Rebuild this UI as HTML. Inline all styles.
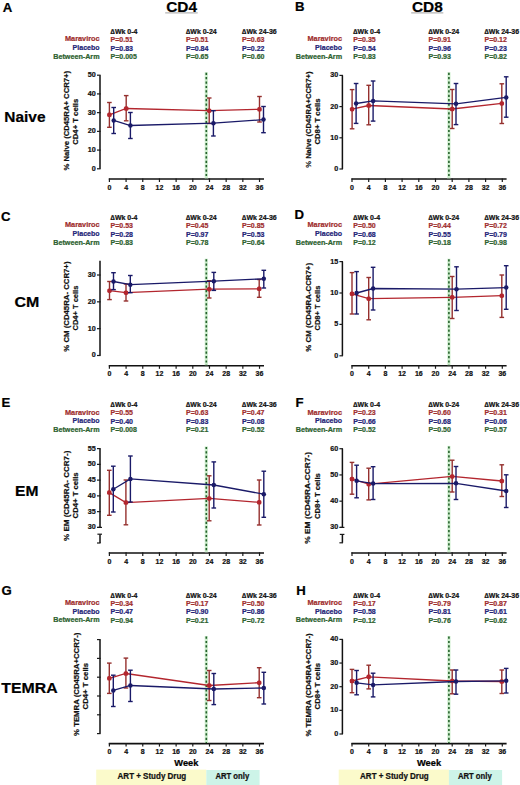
<!DOCTYPE html>
<html><head><meta charset="utf-8"><title>Figure</title>
<style>html,body{margin:0;padding:0;background:#fff;width:520px;height:785px;overflow:hidden}svg{display:block}</style>
</head><body>
<svg width="520" height="785" viewBox="0 0 520 785" font-family="'Liberation Sans', sans-serif">
<rect width="520" height="785" fill="#ffffff"/>
<text x="181.60" y="12.00" font-size="15.4" fill="#000" stroke="#000" stroke-width="0.22" text-anchor="middle" font-weight="bold" >CD4</text>
<line x1="165.20" y1="12.90" x2="197.70" y2="12.90" stroke="#8a8a8a" stroke-width="0.8" />
<text x="427.40" y="12.00" font-size="15.4" fill="#000" stroke="#000" stroke-width="0.22" text-anchor="middle" font-weight="bold" >CD8</text>
<line x1="411.20" y1="12.90" x2="443.30" y2="12.90" stroke="#8a8a8a" stroke-width="0.8" />
<text x="24.90" y="122.00" font-size="15.4" fill="#000" stroke="#000" stroke-width="0.22" text-anchor="middle" font-weight="bold" textLength="41.2" lengthAdjust="spacingAndGlyphs">Naive</text>
<text x="27.00" y="307.30" font-size="15.4" fill="#000" stroke="#000" stroke-width="0.22" text-anchor="middle" font-weight="bold" textLength="24.8" lengthAdjust="spacingAndGlyphs">CM</text>
<text x="26.75" y="496.30" font-size="15.4" fill="#000" stroke="#000" stroke-width="0.22" text-anchor="middle" font-weight="bold" textLength="23.4" lengthAdjust="spacingAndGlyphs">EM</text>
<text x="29.45" y="693.40" font-size="15.4" fill="#000" stroke="#000" stroke-width="0.22" text-anchor="middle" font-weight="bold" textLength="56.2" lengthAdjust="spacingAndGlyphs">TEMRA</text>
<text x="2.70" y="11.60" font-size="13.2" fill="#000" stroke="#000" stroke-width="0.22" text-anchor="start" font-weight="bold" >A</text>
<text x="99.60" y="41.30" font-size="7.2" fill="#a02e2e" stroke="#a02e2e" stroke-width="0.22" text-anchor="end" font-weight="bold" textLength="34.6" lengthAdjust="spacingAndGlyphs">Maraviroc</text>
<text x="99.60" y="49.90" font-size="7.2" fill="#242478" stroke="#242478" stroke-width="0.22" text-anchor="end" font-weight="bold" textLength="27.0" lengthAdjust="spacingAndGlyphs">Placebo</text>
<text x="99.60" y="58.50" font-size="7.2" fill="#2d622f" stroke="#2d622f" stroke-width="0.22" text-anchor="end" font-weight="bold" textLength="46.4" lengthAdjust="spacingAndGlyphs">Between-Arm</text>
<text x="110.60" y="34.00" font-size="7" fill="#111" stroke="#111" stroke-width="0.22" text-anchor="start" font-weight="bold" >∆Wk 0-4</text>
<text x="110.60" y="42.00" font-size="7" fill="#a02e2e" stroke="#a02e2e" stroke-width="0.22" text-anchor="start" font-weight="bold" >P=0.51</text>
<text x="110.60" y="50.60" font-size="7" fill="#242478" stroke="#242478" stroke-width="0.22" text-anchor="start" font-weight="bold" >P=0.83</text>
<text x="110.60" y="59.20" font-size="7" fill="#2d622f" stroke="#2d622f" stroke-width="0.22" text-anchor="start" font-weight="bold" >P=0.005</text>
<text x="186.00" y="34.00" font-size="7" fill="#111" stroke="#111" stroke-width="0.22" text-anchor="start" font-weight="bold" >∆Wk 0-24</text>
<text x="186.00" y="42.00" font-size="7" fill="#a02e2e" stroke="#a02e2e" stroke-width="0.22" text-anchor="start" font-weight="bold" >P=0.51</text>
<text x="186.00" y="50.60" font-size="7" fill="#242478" stroke="#242478" stroke-width="0.22" text-anchor="start" font-weight="bold" >P=0.84</text>
<text x="186.00" y="59.20" font-size="7" fill="#2d622f" stroke="#2d622f" stroke-width="0.22" text-anchor="start" font-weight="bold" >P=0.65</text>
<text x="242.10" y="34.00" font-size="7" fill="#111" stroke="#111" stroke-width="0.22" text-anchor="start" font-weight="bold" >∆Wk 24-36</text>
<text x="242.10" y="42.00" font-size="7" fill="#a02e2e" stroke="#a02e2e" stroke-width="0.22" text-anchor="start" font-weight="bold" >P=0.63</text>
<text x="242.10" y="50.60" font-size="7" fill="#242478" stroke="#242478" stroke-width="0.22" text-anchor="start" font-weight="bold" >P=0.22</text>
<text x="242.10" y="59.20" font-size="7" fill="#2d622f" stroke="#2d622f" stroke-width="0.22" text-anchor="start" font-weight="bold" >P=0.60</text>
<line x1="100.00" y1="75.20" x2="100.00" y2="168.80" stroke="#111" stroke-width="1.5" />
<line x1="97.00" y1="168.80" x2="100.60" y2="168.80" stroke="#1a1a1a" stroke-width="1.2" />
<text x="95.80" y="170.70" font-size="7.2" fill="#111" stroke="#111" stroke-width="0.22" text-anchor="end" font-weight="bold" >0</text>
<line x1="97.00" y1="150.08" x2="100.60" y2="150.08" stroke="#1a1a1a" stroke-width="1.2" />
<text x="95.80" y="151.98" font-size="7.2" fill="#111" stroke="#111" stroke-width="0.22" text-anchor="end" font-weight="bold" >10</text>
<line x1="97.00" y1="131.36" x2="100.60" y2="131.36" stroke="#1a1a1a" stroke-width="1.2" />
<text x="95.80" y="133.26" font-size="7.2" fill="#111" stroke="#111" stroke-width="0.22" text-anchor="end" font-weight="bold" >20</text>
<line x1="97.00" y1="112.64" x2="100.60" y2="112.64" stroke="#1a1a1a" stroke-width="1.2" />
<text x="95.80" y="114.54" font-size="7.2" fill="#111" stroke="#111" stroke-width="0.22" text-anchor="end" font-weight="bold" >30</text>
<line x1="97.00" y1="93.92" x2="100.60" y2="93.92" stroke="#1a1a1a" stroke-width="1.2" />
<text x="95.80" y="95.82" font-size="7.2" fill="#111" stroke="#111" stroke-width="0.22" text-anchor="end" font-weight="bold" >40</text>
<line x1="97.00" y1="75.20" x2="100.60" y2="75.20" stroke="#1a1a1a" stroke-width="1.2" />
<text x="95.80" y="77.10" font-size="7.2" fill="#111" stroke="#111" stroke-width="0.22" text-anchor="end" font-weight="bold" >50</text>
<text transform="translate(68.70,120.70) rotate(-90)" font-size="7.7" font-weight="bold" fill="#111" stroke="#111" stroke-width="0.22" text-anchor="middle" textLength="99.6" lengthAdjust="spacingAndGlyphs">% Naive (CD45RA+ CCR7+)</text>
<text transform="translate(78.20,121.75) rotate(-90)" font-size="7.7" font-weight="bold" fill="#111" stroke="#111" stroke-width="0.22" text-anchor="middle" textLength="46.0" lengthAdjust="spacingAndGlyphs">CD4+ T cells</text>
<line x1="108.80" y1="179.00" x2="264.00" y2="179.00" stroke="#111" stroke-width="1.55" />
<line x1="109.40" y1="178.40" x2="109.40" y2="182.00" stroke="#1a1a1a" stroke-width="1.2" />
<text x="109.40" y="189.60" font-size="7" fill="#111" stroke="#111" stroke-width="0.22" text-anchor="middle" font-weight="bold" >0</text>
<line x1="126.08" y1="178.40" x2="126.08" y2="182.00" stroke="#1a1a1a" stroke-width="1.2" />
<text x="126.08" y="189.60" font-size="7" fill="#111" stroke="#111" stroke-width="0.22" text-anchor="middle" font-weight="bold" >4</text>
<line x1="142.76" y1="178.40" x2="142.76" y2="182.00" stroke="#1a1a1a" stroke-width="1.2" />
<text x="142.76" y="189.60" font-size="7" fill="#111" stroke="#111" stroke-width="0.22" text-anchor="middle" font-weight="bold" >8</text>
<line x1="159.44" y1="178.40" x2="159.44" y2="182.00" stroke="#1a1a1a" stroke-width="1.2" />
<text x="159.44" y="189.60" font-size="7" fill="#111" stroke="#111" stroke-width="0.22" text-anchor="middle" font-weight="bold" >12</text>
<line x1="176.12" y1="178.40" x2="176.12" y2="182.00" stroke="#1a1a1a" stroke-width="1.2" />
<text x="176.12" y="189.60" font-size="7" fill="#111" stroke="#111" stroke-width="0.22" text-anchor="middle" font-weight="bold" >16</text>
<line x1="192.80" y1="178.40" x2="192.80" y2="182.00" stroke="#1a1a1a" stroke-width="1.2" />
<text x="192.80" y="189.60" font-size="7" fill="#111" stroke="#111" stroke-width="0.22" text-anchor="middle" font-weight="bold" >20</text>
<line x1="209.48" y1="178.40" x2="209.48" y2="182.00" stroke="#1a1a1a" stroke-width="1.2" />
<text x="209.48" y="189.60" font-size="7" fill="#111" stroke="#111" stroke-width="0.22" text-anchor="middle" font-weight="bold" >24</text>
<line x1="226.16" y1="178.40" x2="226.16" y2="182.00" stroke="#1a1a1a" stroke-width="1.2" />
<text x="226.16" y="189.60" font-size="7" fill="#111" stroke="#111" stroke-width="0.22" text-anchor="middle" font-weight="bold" >28</text>
<line x1="242.84" y1="178.40" x2="242.84" y2="182.00" stroke="#1a1a1a" stroke-width="1.2" />
<text x="242.84" y="189.60" font-size="7" fill="#111" stroke="#111" stroke-width="0.22" text-anchor="middle" font-weight="bold" >32</text>
<line x1="259.52" y1="178.40" x2="259.52" y2="182.00" stroke="#1a1a1a" stroke-width="1.2" />
<text x="259.52" y="189.60" font-size="7" fill="#111" stroke="#111" stroke-width="0.22" text-anchor="middle" font-weight="bold" >36</text>
<line x1="206.30" y1="72.20" x2="206.30" y2="178.40" stroke="#cdeecd" stroke-width="3.2" />
<line x1="206.30" y1="72.70" x2="206.30" y2="178.40" stroke="#25602c" stroke-width="1.6" stroke-dasharray="2.2 2.2"/>
<path d="M109.40,114.80 L126.20,108.50 L209.20,110.70 L259.50,109.30" fill="none" stroke="#b3262e" stroke-width="1.3"/>
<line x1="109.40" y1="102.50" x2="109.40" y2="127.30" stroke="#95302e" stroke-width="1.4" />
<line x1="107.10" y1="102.50" x2="111.70" y2="102.50" stroke="#95302e" stroke-width="1.4" />
<line x1="107.10" y1="127.30" x2="111.70" y2="127.30" stroke="#95302e" stroke-width="1.4" />
<rect x="107.15" y="112.55" width="4.5" height="4.5" rx="1.6" fill="#b3262e"/>
<line x1="126.20" y1="95.60" x2="126.20" y2="120.80" stroke="#95302e" stroke-width="1.4" />
<line x1="123.90" y1="95.60" x2="128.50" y2="95.60" stroke="#95302e" stroke-width="1.4" />
<line x1="123.90" y1="120.80" x2="128.50" y2="120.80" stroke="#95302e" stroke-width="1.4" />
<rect x="123.95" y="106.25" width="4.5" height="4.5" rx="1.6" fill="#b3262e"/>
<line x1="209.20" y1="98.00" x2="209.20" y2="123.50" stroke="#95302e" stroke-width="1.4" />
<line x1="206.90" y1="98.00" x2="211.50" y2="98.00" stroke="#95302e" stroke-width="1.4" />
<line x1="206.90" y1="123.50" x2="211.50" y2="123.50" stroke="#95302e" stroke-width="1.4" />
<rect x="206.95" y="108.45" width="4.5" height="4.5" rx="1.6" fill="#b3262e"/>
<line x1="259.50" y1="96.50" x2="259.50" y2="122.00" stroke="#95302e" stroke-width="1.4" />
<line x1="257.20" y1="96.50" x2="261.80" y2="96.50" stroke="#95302e" stroke-width="1.4" />
<line x1="257.20" y1="122.00" x2="261.80" y2="122.00" stroke="#95302e" stroke-width="1.4" />
<rect x="257.25" y="107.05" width="4.5" height="4.5" rx="1.6" fill="#b3262e"/>
<path d="M113.70,120.40 L130.40,125.50 L213.40,123.20 L263.50,119.60" fill="none" stroke="#1a1a68" stroke-width="1.3"/>
<line x1="113.70" y1="107.50" x2="113.70" y2="133.50" stroke="#1a1a68" stroke-width="1.4" />
<line x1="111.40" y1="107.50" x2="116.00" y2="107.50" stroke="#1a1a68" stroke-width="1.4" />
<line x1="111.40" y1="133.50" x2="116.00" y2="133.50" stroke="#1a1a68" stroke-width="1.4" />
<circle cx="113.70" cy="120.40" r="2.25" fill="#1a1a68"/>
<line x1="130.40" y1="112.50" x2="130.40" y2="138.50" stroke="#1a1a68" stroke-width="1.4" />
<line x1="128.10" y1="112.50" x2="132.70" y2="112.50" stroke="#1a1a68" stroke-width="1.4" />
<line x1="128.10" y1="138.50" x2="132.70" y2="138.50" stroke="#1a1a68" stroke-width="1.4" />
<circle cx="130.40" cy="125.50" r="2.25" fill="#1a1a68"/>
<line x1="213.40" y1="110.70" x2="213.40" y2="136.00" stroke="#1a1a68" stroke-width="1.4" />
<line x1="211.10" y1="110.70" x2="215.70" y2="110.70" stroke="#1a1a68" stroke-width="1.4" />
<line x1="211.10" y1="136.00" x2="215.70" y2="136.00" stroke="#1a1a68" stroke-width="1.4" />
<circle cx="213.40" cy="123.20" r="2.25" fill="#1a1a68"/>
<line x1="263.50" y1="106.50" x2="263.50" y2="132.70" stroke="#1a1a68" stroke-width="1.4" />
<line x1="261.20" y1="106.50" x2="265.80" y2="106.50" stroke="#1a1a68" stroke-width="1.4" />
<line x1="261.20" y1="132.70" x2="265.80" y2="132.70" stroke="#1a1a68" stroke-width="1.4" />
<circle cx="263.50" cy="119.60" r="2.25" fill="#1a1a68"/>
<text x="294.90" y="11.40" font-size="13.2" fill="#000" stroke="#000" stroke-width="0.22" text-anchor="start" font-weight="bold" >B</text>
<text x="342.10" y="41.30" font-size="7.2" fill="#a02e2e" stroke="#a02e2e" stroke-width="0.22" text-anchor="end" font-weight="bold" textLength="34.6" lengthAdjust="spacingAndGlyphs">Maraviroc</text>
<text x="342.10" y="49.90" font-size="7.2" fill="#242478" stroke="#242478" stroke-width="0.22" text-anchor="end" font-weight="bold" textLength="27.0" lengthAdjust="spacingAndGlyphs">Placebo</text>
<text x="342.10" y="58.50" font-size="7.2" fill="#2d622f" stroke="#2d622f" stroke-width="0.22" text-anchor="end" font-weight="bold" textLength="46.4" lengthAdjust="spacingAndGlyphs">Between-Arm</text>
<text x="353.30" y="34.00" font-size="7" fill="#111" stroke="#111" stroke-width="0.22" text-anchor="start" font-weight="bold" >∆Wk 0-4</text>
<text x="353.30" y="42.00" font-size="7" fill="#a02e2e" stroke="#a02e2e" stroke-width="0.22" text-anchor="start" font-weight="bold" >P=0.35</text>
<text x="353.30" y="50.60" font-size="7" fill="#242478" stroke="#242478" stroke-width="0.22" text-anchor="start" font-weight="bold" >P=0.54</text>
<text x="353.30" y="59.20" font-size="7" fill="#2d622f" stroke="#2d622f" stroke-width="0.22" text-anchor="start" font-weight="bold" >P=0.83</text>
<text x="428.50" y="34.00" font-size="7" fill="#111" stroke="#111" stroke-width="0.22" text-anchor="start" font-weight="bold" >∆Wk 0-24</text>
<text x="428.50" y="42.00" font-size="7" fill="#a02e2e" stroke="#a02e2e" stroke-width="0.22" text-anchor="start" font-weight="bold" >P=0.91</text>
<text x="428.50" y="50.60" font-size="7" fill="#242478" stroke="#242478" stroke-width="0.22" text-anchor="start" font-weight="bold" >P=0.96</text>
<text x="428.50" y="59.20" font-size="7" fill="#2d622f" stroke="#2d622f" stroke-width="0.22" text-anchor="start" font-weight="bold" >P=0.93</text>
<text x="484.50" y="34.00" font-size="7" fill="#111" stroke="#111" stroke-width="0.22" text-anchor="start" font-weight="bold" >∆Wk 24-36</text>
<text x="484.50" y="42.00" font-size="7" fill="#a02e2e" stroke="#a02e2e" stroke-width="0.22" text-anchor="start" font-weight="bold" >P=0.12</text>
<text x="484.50" y="50.60" font-size="7" fill="#242478" stroke="#242478" stroke-width="0.22" text-anchor="start" font-weight="bold" >P=0.23</text>
<text x="484.50" y="59.20" font-size="7" fill="#2d622f" stroke="#2d622f" stroke-width="0.22" text-anchor="start" font-weight="bold" >P=0.82</text>
<line x1="342.40" y1="75.40" x2="342.40" y2="169.00" stroke="#111" stroke-width="1.5" />
<line x1="339.40" y1="169.00" x2="343.00" y2="169.00" stroke="#1a1a1a" stroke-width="1.2" />
<text x="338.20" y="170.90" font-size="7.2" fill="#111" stroke="#111" stroke-width="0.22" text-anchor="end" font-weight="bold" >0</text>
<line x1="339.40" y1="137.80" x2="343.00" y2="137.80" stroke="#1a1a1a" stroke-width="1.2" />
<text x="338.20" y="139.70" font-size="7.2" fill="#111" stroke="#111" stroke-width="0.22" text-anchor="end" font-weight="bold" >10</text>
<line x1="339.40" y1="106.60" x2="343.00" y2="106.60" stroke="#1a1a1a" stroke-width="1.2" />
<text x="338.20" y="108.50" font-size="7.2" fill="#111" stroke="#111" stroke-width="0.22" text-anchor="end" font-weight="bold" >20</text>
<line x1="339.40" y1="75.40" x2="343.00" y2="75.40" stroke="#1a1a1a" stroke-width="1.2" />
<text x="338.20" y="77.30" font-size="7.2" fill="#111" stroke="#111" stroke-width="0.22" text-anchor="end" font-weight="bold" >30</text>
<text transform="translate(310.50,119.60) rotate(-90)" font-size="7.7" font-weight="bold" fill="#111" stroke="#111" stroke-width="0.22" text-anchor="middle" textLength="96.3" lengthAdjust="spacingAndGlyphs">% Naive (CD45RA+CCR7+)</text>
<text transform="translate(319.80,121.50) rotate(-90)" font-size="7.7" font-weight="bold" fill="#111" stroke="#111" stroke-width="0.22" text-anchor="middle" textLength="46.0" lengthAdjust="spacingAndGlyphs">CD8+ T cells</text>
<line x1="351.40" y1="179.00" x2="506.60" y2="179.00" stroke="#111" stroke-width="1.55" />
<line x1="352.00" y1="178.40" x2="352.00" y2="182.00" stroke="#1a1a1a" stroke-width="1.2" />
<text x="352.00" y="189.60" font-size="7" fill="#111" stroke="#111" stroke-width="0.22" text-anchor="middle" font-weight="bold" >0</text>
<line x1="368.70" y1="178.40" x2="368.70" y2="182.00" stroke="#1a1a1a" stroke-width="1.2" />
<text x="368.70" y="189.60" font-size="7" fill="#111" stroke="#111" stroke-width="0.22" text-anchor="middle" font-weight="bold" >4</text>
<line x1="385.40" y1="178.40" x2="385.40" y2="182.00" stroke="#1a1a1a" stroke-width="1.2" />
<text x="385.40" y="189.60" font-size="7" fill="#111" stroke="#111" stroke-width="0.22" text-anchor="middle" font-weight="bold" >8</text>
<line x1="402.10" y1="178.40" x2="402.10" y2="182.00" stroke="#1a1a1a" stroke-width="1.2" />
<text x="402.10" y="189.60" font-size="7" fill="#111" stroke="#111" stroke-width="0.22" text-anchor="middle" font-weight="bold" >12</text>
<line x1="418.80" y1="178.40" x2="418.80" y2="182.00" stroke="#1a1a1a" stroke-width="1.2" />
<text x="418.80" y="189.60" font-size="7" fill="#111" stroke="#111" stroke-width="0.22" text-anchor="middle" font-weight="bold" >16</text>
<line x1="435.50" y1="178.40" x2="435.50" y2="182.00" stroke="#1a1a1a" stroke-width="1.2" />
<text x="435.50" y="189.60" font-size="7" fill="#111" stroke="#111" stroke-width="0.22" text-anchor="middle" font-weight="bold" >20</text>
<line x1="452.20" y1="178.40" x2="452.20" y2="182.00" stroke="#1a1a1a" stroke-width="1.2" />
<text x="452.20" y="189.60" font-size="7" fill="#111" stroke="#111" stroke-width="0.22" text-anchor="middle" font-weight="bold" >24</text>
<line x1="468.90" y1="178.40" x2="468.90" y2="182.00" stroke="#1a1a1a" stroke-width="1.2" />
<text x="468.90" y="189.60" font-size="7" fill="#111" stroke="#111" stroke-width="0.22" text-anchor="middle" font-weight="bold" >28</text>
<line x1="485.60" y1="178.40" x2="485.60" y2="182.00" stroke="#1a1a1a" stroke-width="1.2" />
<text x="485.60" y="189.60" font-size="7" fill="#111" stroke="#111" stroke-width="0.22" text-anchor="middle" font-weight="bold" >32</text>
<line x1="502.30" y1="178.40" x2="502.30" y2="182.00" stroke="#1a1a1a" stroke-width="1.2" />
<text x="502.30" y="189.60" font-size="7" fill="#111" stroke="#111" stroke-width="0.22" text-anchor="middle" font-weight="bold" >36</text>
<line x1="448.90" y1="72.20" x2="448.90" y2="178.40" stroke="#cdeecd" stroke-width="3.2" />
<line x1="448.90" y1="72.70" x2="448.90" y2="178.40" stroke="#25602c" stroke-width="1.6" stroke-dasharray="2.2 2.2"/>
<path d="M352.10,109.20 L368.70,105.50 L452.20,109.00 L501.80,103.40" fill="none" stroke="#b3262e" stroke-width="1.3"/>
<line x1="352.10" y1="89.60" x2="352.10" y2="128.80" stroke="#95302e" stroke-width="1.4" />
<line x1="349.80" y1="89.60" x2="354.40" y2="89.60" stroke="#95302e" stroke-width="1.4" />
<line x1="349.80" y1="128.80" x2="354.40" y2="128.80" stroke="#95302e" stroke-width="1.4" />
<rect x="349.85" y="106.95" width="4.5" height="4.5" rx="1.6" fill="#b3262e"/>
<line x1="368.70" y1="85.30" x2="368.70" y2="124.80" stroke="#95302e" stroke-width="1.4" />
<line x1="366.40" y1="85.30" x2="371.00" y2="85.30" stroke="#95302e" stroke-width="1.4" />
<line x1="366.40" y1="124.80" x2="371.00" y2="124.80" stroke="#95302e" stroke-width="1.4" />
<rect x="366.45" y="103.25" width="4.5" height="4.5" rx="1.6" fill="#b3262e"/>
<line x1="452.20" y1="89.50" x2="452.20" y2="128.50" stroke="#95302e" stroke-width="1.4" />
<line x1="449.90" y1="89.50" x2="454.50" y2="89.50" stroke="#95302e" stroke-width="1.4" />
<line x1="449.90" y1="128.50" x2="454.50" y2="128.50" stroke="#95302e" stroke-width="1.4" />
<rect x="449.95" y="106.75" width="4.5" height="4.5" rx="1.6" fill="#b3262e"/>
<line x1="501.80" y1="83.80" x2="501.80" y2="123.50" stroke="#95302e" stroke-width="1.4" />
<line x1="499.50" y1="83.80" x2="504.10" y2="83.80" stroke="#95302e" stroke-width="1.4" />
<line x1="499.50" y1="123.50" x2="504.10" y2="123.50" stroke="#95302e" stroke-width="1.4" />
<rect x="499.55" y="101.15" width="4.5" height="4.5" rx="1.6" fill="#b3262e"/>
<path d="M356.10,103.50 L373.10,100.90 L456.00,103.80 L506.20,97.40" fill="none" stroke="#1a1a68" stroke-width="1.3"/>
<line x1="356.10" y1="83.50" x2="356.10" y2="123.40" stroke="#1a1a68" stroke-width="1.4" />
<line x1="353.80" y1="83.50" x2="358.40" y2="83.50" stroke="#1a1a68" stroke-width="1.4" />
<line x1="353.80" y1="123.40" x2="358.40" y2="123.40" stroke="#1a1a68" stroke-width="1.4" />
<circle cx="356.10" cy="103.50" r="2.25" fill="#1a1a68"/>
<line x1="373.10" y1="81.00" x2="373.10" y2="121.10" stroke="#1a1a68" stroke-width="1.4" />
<line x1="370.80" y1="81.00" x2="375.40" y2="81.00" stroke="#1a1a68" stroke-width="1.4" />
<line x1="370.80" y1="121.10" x2="375.40" y2="121.10" stroke="#1a1a68" stroke-width="1.4" />
<circle cx="373.10" cy="100.90" r="2.25" fill="#1a1a68"/>
<line x1="456.00" y1="83.50" x2="456.00" y2="124.60" stroke="#1a1a68" stroke-width="1.4" />
<line x1="453.70" y1="83.50" x2="458.30" y2="83.50" stroke="#1a1a68" stroke-width="1.4" />
<line x1="453.70" y1="124.60" x2="458.30" y2="124.60" stroke="#1a1a68" stroke-width="1.4" />
<circle cx="456.00" cy="103.80" r="2.25" fill="#1a1a68"/>
<line x1="506.20" y1="76.80" x2="506.20" y2="117.20" stroke="#1a1a68" stroke-width="1.4" />
<line x1="503.90" y1="76.80" x2="508.50" y2="76.80" stroke="#1a1a68" stroke-width="1.4" />
<line x1="503.90" y1="117.20" x2="508.50" y2="117.20" stroke="#1a1a68" stroke-width="1.4" />
<circle cx="506.20" cy="97.40" r="2.25" fill="#1a1a68"/>
<text x="1.00" y="220.50" font-size="13.2" fill="#000" stroke="#000" stroke-width="0.22" text-anchor="start" font-weight="bold" >C</text>
<text x="99.60" y="227.30" font-size="7.2" fill="#a02e2e" stroke="#a02e2e" stroke-width="0.22" text-anchor="end" font-weight="bold" textLength="34.6" lengthAdjust="spacingAndGlyphs">Maraviroc</text>
<text x="99.60" y="235.90" font-size="7.2" fill="#242478" stroke="#242478" stroke-width="0.22" text-anchor="end" font-weight="bold" textLength="27.0" lengthAdjust="spacingAndGlyphs">Placebo</text>
<text x="99.60" y="244.50" font-size="7.2" fill="#2d622f" stroke="#2d622f" stroke-width="0.22" text-anchor="end" font-weight="bold" textLength="46.4" lengthAdjust="spacingAndGlyphs">Between-Arm</text>
<text x="110.60" y="220.00" font-size="7" fill="#111" stroke="#111" stroke-width="0.22" text-anchor="start" font-weight="bold" >∆Wk 0-4</text>
<text x="110.60" y="228.00" font-size="7" fill="#a02e2e" stroke="#a02e2e" stroke-width="0.22" text-anchor="start" font-weight="bold" >P=0.53</text>
<text x="110.60" y="236.60" font-size="7" fill="#242478" stroke="#242478" stroke-width="0.22" text-anchor="start" font-weight="bold" >P=0.28</text>
<text x="110.60" y="245.20" font-size="7" fill="#2d622f" stroke="#2d622f" stroke-width="0.22" text-anchor="start" font-weight="bold" >P=0.83</text>
<text x="186.00" y="220.00" font-size="7" fill="#111" stroke="#111" stroke-width="0.22" text-anchor="start" font-weight="bold" >∆Wk 0-24</text>
<text x="186.00" y="228.00" font-size="7" fill="#a02e2e" stroke="#a02e2e" stroke-width="0.22" text-anchor="start" font-weight="bold" >P=0.45</text>
<text x="186.00" y="236.60" font-size="7" fill="#242478" stroke="#242478" stroke-width="0.22" text-anchor="start" font-weight="bold" >P=0.97</text>
<text x="186.00" y="245.20" font-size="7" fill="#2d622f" stroke="#2d622f" stroke-width="0.22" text-anchor="start" font-weight="bold" >P=0.78</text>
<text x="242.10" y="220.00" font-size="7" fill="#111" stroke="#111" stroke-width="0.22" text-anchor="start" font-weight="bold" >∆Wk 24-36</text>
<text x="242.10" y="228.00" font-size="7" fill="#a02e2e" stroke="#a02e2e" stroke-width="0.22" text-anchor="start" font-weight="bold" >P=0.85</text>
<text x="242.10" y="236.60" font-size="7" fill="#242478" stroke="#242478" stroke-width="0.22" text-anchor="start" font-weight="bold" >P=0.53</text>
<text x="242.10" y="245.20" font-size="7" fill="#2d622f" stroke="#2d622f" stroke-width="0.22" text-anchor="start" font-weight="bold" >P=0.64</text>
<line x1="100.00" y1="260.80" x2="100.00" y2="355.50" stroke="#111" stroke-width="1.5" />
<line x1="97.00" y1="355.50" x2="100.60" y2="355.50" stroke="#1a1a1a" stroke-width="1.2" />
<text x="95.80" y="357.40" font-size="7.2" fill="#111" stroke="#111" stroke-width="0.22" text-anchor="end" font-weight="bold" >0</text>
<line x1="97.00" y1="328.67" x2="100.60" y2="328.67" stroke="#1a1a1a" stroke-width="1.2" />
<text x="95.80" y="330.57" font-size="7.2" fill="#111" stroke="#111" stroke-width="0.22" text-anchor="end" font-weight="bold" >10</text>
<line x1="97.00" y1="301.84" x2="100.60" y2="301.84" stroke="#1a1a1a" stroke-width="1.2" />
<text x="95.80" y="303.74" font-size="7.2" fill="#111" stroke="#111" stroke-width="0.22" text-anchor="end" font-weight="bold" >20</text>
<line x1="97.00" y1="275.01" x2="100.60" y2="275.01" stroke="#1a1a1a" stroke-width="1.2" />
<text x="95.80" y="276.91" font-size="7.2" fill="#111" stroke="#111" stroke-width="0.22" text-anchor="end" font-weight="bold" >30</text>
<text transform="translate(68.60,306.60) rotate(-90)" font-size="7.7" font-weight="bold" fill="#111" stroke="#111" stroke-width="0.22" text-anchor="middle" textLength="90.2" lengthAdjust="spacingAndGlyphs">% CM (CD45RA- CCR7+)</text>
<text transform="translate(77.80,308.10) rotate(-90)" font-size="7.7" font-weight="bold" fill="#111" stroke="#111" stroke-width="0.22" text-anchor="middle" textLength="44.8" lengthAdjust="spacingAndGlyphs">CD4+ T cells</text>
<line x1="108.80" y1="365.80" x2="264.00" y2="365.80" stroke="#111" stroke-width="1.55" />
<line x1="109.40" y1="365.20" x2="109.40" y2="368.80" stroke="#1a1a1a" stroke-width="1.2" />
<text x="109.40" y="376.40" font-size="7" fill="#111" stroke="#111" stroke-width="0.22" text-anchor="middle" font-weight="bold" >0</text>
<line x1="126.08" y1="365.20" x2="126.08" y2="368.80" stroke="#1a1a1a" stroke-width="1.2" />
<text x="126.08" y="376.40" font-size="7" fill="#111" stroke="#111" stroke-width="0.22" text-anchor="middle" font-weight="bold" >4</text>
<line x1="142.76" y1="365.20" x2="142.76" y2="368.80" stroke="#1a1a1a" stroke-width="1.2" />
<text x="142.76" y="376.40" font-size="7" fill="#111" stroke="#111" stroke-width="0.22" text-anchor="middle" font-weight="bold" >8</text>
<line x1="159.44" y1="365.20" x2="159.44" y2="368.80" stroke="#1a1a1a" stroke-width="1.2" />
<text x="159.44" y="376.40" font-size="7" fill="#111" stroke="#111" stroke-width="0.22" text-anchor="middle" font-weight="bold" >12</text>
<line x1="176.12" y1="365.20" x2="176.12" y2="368.80" stroke="#1a1a1a" stroke-width="1.2" />
<text x="176.12" y="376.40" font-size="7" fill="#111" stroke="#111" stroke-width="0.22" text-anchor="middle" font-weight="bold" >16</text>
<line x1="192.80" y1="365.20" x2="192.80" y2="368.80" stroke="#1a1a1a" stroke-width="1.2" />
<text x="192.80" y="376.40" font-size="7" fill="#111" stroke="#111" stroke-width="0.22" text-anchor="middle" font-weight="bold" >20</text>
<line x1="209.48" y1="365.20" x2="209.48" y2="368.80" stroke="#1a1a1a" stroke-width="1.2" />
<text x="209.48" y="376.40" font-size="7" fill="#111" stroke="#111" stroke-width="0.22" text-anchor="middle" font-weight="bold" >24</text>
<line x1="226.16" y1="365.20" x2="226.16" y2="368.80" stroke="#1a1a1a" stroke-width="1.2" />
<text x="226.16" y="376.40" font-size="7" fill="#111" stroke="#111" stroke-width="0.22" text-anchor="middle" font-weight="bold" >28</text>
<line x1="242.84" y1="365.20" x2="242.84" y2="368.80" stroke="#1a1a1a" stroke-width="1.2" />
<text x="242.84" y="376.40" font-size="7" fill="#111" stroke="#111" stroke-width="0.22" text-anchor="middle" font-weight="bold" >32</text>
<line x1="259.52" y1="365.20" x2="259.52" y2="368.80" stroke="#1a1a1a" stroke-width="1.2" />
<text x="259.52" y="376.40" font-size="7" fill="#111" stroke="#111" stroke-width="0.22" text-anchor="middle" font-weight="bold" >36</text>
<line x1="206.30" y1="258.70" x2="206.30" y2="365.20" stroke="#cdeecd" stroke-width="3.2" />
<line x1="206.30" y1="259.20" x2="206.30" y2="365.20" stroke="#25602c" stroke-width="1.6" stroke-dasharray="2.2 2.2"/>
<path d="M109.50,290.70 L126.00,292.70 L209.20,289.20 L259.20,288.80" fill="none" stroke="#b3262e" stroke-width="1.3"/>
<line x1="109.50" y1="281.50" x2="109.50" y2="299.60" stroke="#95302e" stroke-width="1.4" />
<line x1="107.20" y1="281.50" x2="111.80" y2="281.50" stroke="#95302e" stroke-width="1.4" />
<line x1="107.20" y1="299.60" x2="111.80" y2="299.60" stroke="#95302e" stroke-width="1.4" />
<rect x="107.25" y="288.45" width="4.5" height="4.5" rx="1.6" fill="#b3262e"/>
<line x1="126.00" y1="284.00" x2="126.00" y2="301.00" stroke="#95302e" stroke-width="1.4" />
<line x1="123.70" y1="284.00" x2="128.30" y2="284.00" stroke="#95302e" stroke-width="1.4" />
<line x1="123.70" y1="301.00" x2="128.30" y2="301.00" stroke="#95302e" stroke-width="1.4" />
<rect x="123.75" y="290.45" width="4.5" height="4.5" rx="1.6" fill="#b3262e"/>
<line x1="209.20" y1="280.70" x2="209.20" y2="298.00" stroke="#95302e" stroke-width="1.4" />
<line x1="206.90" y1="280.70" x2="211.50" y2="280.70" stroke="#95302e" stroke-width="1.4" />
<line x1="206.90" y1="298.00" x2="211.50" y2="298.00" stroke="#95302e" stroke-width="1.4" />
<rect x="206.95" y="286.95" width="4.5" height="4.5" rx="1.6" fill="#b3262e"/>
<line x1="259.20" y1="279.50" x2="259.20" y2="297.30" stroke="#95302e" stroke-width="1.4" />
<line x1="256.90" y1="279.50" x2="261.50" y2="279.50" stroke="#95302e" stroke-width="1.4" />
<line x1="256.90" y1="297.30" x2="261.50" y2="297.30" stroke="#95302e" stroke-width="1.4" />
<rect x="256.95" y="286.55" width="4.5" height="4.5" rx="1.6" fill="#b3262e"/>
<path d="M113.50,281.50 L130.30,284.70 L213.80,281.20 L263.80,278.80" fill="none" stroke="#1a1a68" stroke-width="1.3"/>
<line x1="113.50" y1="272.70" x2="113.50" y2="289.60" stroke="#1a1a68" stroke-width="1.4" />
<line x1="111.20" y1="272.70" x2="115.80" y2="272.70" stroke="#1a1a68" stroke-width="1.4" />
<line x1="111.20" y1="289.60" x2="115.80" y2="289.60" stroke="#1a1a68" stroke-width="1.4" />
<circle cx="113.50" cy="281.50" r="2.25" fill="#1a1a68"/>
<line x1="130.30" y1="275.50" x2="130.30" y2="292.70" stroke="#1a1a68" stroke-width="1.4" />
<line x1="128.00" y1="275.50" x2="132.60" y2="275.50" stroke="#1a1a68" stroke-width="1.4" />
<line x1="128.00" y1="292.70" x2="132.60" y2="292.70" stroke="#1a1a68" stroke-width="1.4" />
<circle cx="130.30" cy="284.70" r="2.25" fill="#1a1a68"/>
<line x1="213.80" y1="272.40" x2="213.80" y2="290.40" stroke="#1a1a68" stroke-width="1.4" />
<line x1="211.50" y1="272.40" x2="216.10" y2="272.40" stroke="#1a1a68" stroke-width="1.4" />
<line x1="211.50" y1="290.40" x2="216.10" y2="290.40" stroke="#1a1a68" stroke-width="1.4" />
<circle cx="213.80" cy="281.20" r="2.25" fill="#1a1a68"/>
<line x1="263.80" y1="270.30" x2="263.80" y2="288.00" stroke="#1a1a68" stroke-width="1.4" />
<line x1="261.50" y1="270.30" x2="266.10" y2="270.30" stroke="#1a1a68" stroke-width="1.4" />
<line x1="261.50" y1="288.00" x2="266.10" y2="288.00" stroke="#1a1a68" stroke-width="1.4" />
<circle cx="263.80" cy="278.80" r="2.25" fill="#1a1a68"/>
<text x="294.50" y="218.80" font-size="13.2" fill="#000" stroke="#000" stroke-width="0.22" text-anchor="start" font-weight="bold" >D</text>
<text x="342.10" y="227.30" font-size="7.2" fill="#a02e2e" stroke="#a02e2e" stroke-width="0.22" text-anchor="end" font-weight="bold" textLength="34.6" lengthAdjust="spacingAndGlyphs">Maraviroc</text>
<text x="342.10" y="235.90" font-size="7.2" fill="#242478" stroke="#242478" stroke-width="0.22" text-anchor="end" font-weight="bold" textLength="27.0" lengthAdjust="spacingAndGlyphs">Placebo</text>
<text x="342.10" y="244.50" font-size="7.2" fill="#2d622f" stroke="#2d622f" stroke-width="0.22" text-anchor="end" font-weight="bold" textLength="46.4" lengthAdjust="spacingAndGlyphs">Between-Arm</text>
<text x="353.30" y="220.00" font-size="7" fill="#111" stroke="#111" stroke-width="0.22" text-anchor="start" font-weight="bold" >∆Wk 0-4</text>
<text x="353.30" y="228.00" font-size="7" fill="#a02e2e" stroke="#a02e2e" stroke-width="0.22" text-anchor="start" font-weight="bold" >P=0.50</text>
<text x="353.30" y="236.60" font-size="7" fill="#242478" stroke="#242478" stroke-width="0.22" text-anchor="start" font-weight="bold" >P=0.68</text>
<text x="353.30" y="245.20" font-size="7" fill="#2d622f" stroke="#2d622f" stroke-width="0.22" text-anchor="start" font-weight="bold" >P=0.12</text>
<text x="428.50" y="220.00" font-size="7" fill="#111" stroke="#111" stroke-width="0.22" text-anchor="start" font-weight="bold" >∆Wk 0-24</text>
<text x="428.50" y="228.00" font-size="7" fill="#a02e2e" stroke="#a02e2e" stroke-width="0.22" text-anchor="start" font-weight="bold" >P=0.44</text>
<text x="428.50" y="236.60" font-size="7" fill="#242478" stroke="#242478" stroke-width="0.22" text-anchor="start" font-weight="bold" >P=0.55</text>
<text x="428.50" y="245.20" font-size="7" fill="#2d622f" stroke="#2d622f" stroke-width="0.22" text-anchor="start" font-weight="bold" >P=0.18</text>
<text x="484.50" y="220.00" font-size="7" fill="#111" stroke="#111" stroke-width="0.22" text-anchor="start" font-weight="bold" >∆Wk 24-36</text>
<text x="484.50" y="228.00" font-size="7" fill="#a02e2e" stroke="#a02e2e" stroke-width="0.22" text-anchor="start" font-weight="bold" >P=0.72</text>
<text x="484.50" y="236.60" font-size="7" fill="#242478" stroke="#242478" stroke-width="0.22" text-anchor="start" font-weight="bold" >P=0.79</text>
<text x="484.50" y="245.20" font-size="7" fill="#2d622f" stroke="#2d622f" stroke-width="0.22" text-anchor="start" font-weight="bold" >P=0.98</text>
<line x1="342.40" y1="261.60" x2="342.40" y2="355.80" stroke="#111" stroke-width="1.5" />
<line x1="339.40" y1="355.80" x2="343.00" y2="355.80" stroke="#1a1a1a" stroke-width="1.2" />
<text x="338.20" y="357.70" font-size="7.2" fill="#111" stroke="#111" stroke-width="0.22" text-anchor="end" font-weight="bold" >0</text>
<line x1="339.40" y1="324.40" x2="343.00" y2="324.40" stroke="#1a1a1a" stroke-width="1.2" />
<text x="338.20" y="326.30" font-size="7.2" fill="#111" stroke="#111" stroke-width="0.22" text-anchor="end" font-weight="bold" >5</text>
<line x1="339.40" y1="293.00" x2="343.00" y2="293.00" stroke="#1a1a1a" stroke-width="1.2" />
<text x="338.20" y="294.90" font-size="7.2" fill="#111" stroke="#111" stroke-width="0.22" text-anchor="end" font-weight="bold" >10</text>
<line x1="339.40" y1="261.60" x2="343.00" y2="261.60" stroke="#1a1a1a" stroke-width="1.2" />
<text x="338.20" y="263.50" font-size="7.2" fill="#111" stroke="#111" stroke-width="0.22" text-anchor="end" font-weight="bold" >15</text>
<text transform="translate(310.50,307.30) rotate(-90)" font-size="7.7" font-weight="bold" fill="#111" stroke="#111" stroke-width="0.22" text-anchor="middle" textLength="88.7" lengthAdjust="spacingAndGlyphs">% CM (CD45RA-CCR7+)</text>
<text transform="translate(319.80,308.10) rotate(-90)" font-size="7.7" font-weight="bold" fill="#111" stroke="#111" stroke-width="0.22" text-anchor="middle" textLength="44.8" lengthAdjust="spacingAndGlyphs">CD8+ T cells</text>
<line x1="351.40" y1="365.80" x2="506.60" y2="365.80" stroke="#111" stroke-width="1.55" />
<line x1="352.00" y1="365.20" x2="352.00" y2="368.80" stroke="#1a1a1a" stroke-width="1.2" />
<text x="352.00" y="376.40" font-size="7" fill="#111" stroke="#111" stroke-width="0.22" text-anchor="middle" font-weight="bold" >0</text>
<line x1="368.70" y1="365.20" x2="368.70" y2="368.80" stroke="#1a1a1a" stroke-width="1.2" />
<text x="368.70" y="376.40" font-size="7" fill="#111" stroke="#111" stroke-width="0.22" text-anchor="middle" font-weight="bold" >4</text>
<line x1="385.40" y1="365.20" x2="385.40" y2="368.80" stroke="#1a1a1a" stroke-width="1.2" />
<text x="385.40" y="376.40" font-size="7" fill="#111" stroke="#111" stroke-width="0.22" text-anchor="middle" font-weight="bold" >8</text>
<line x1="402.10" y1="365.20" x2="402.10" y2="368.80" stroke="#1a1a1a" stroke-width="1.2" />
<text x="402.10" y="376.40" font-size="7" fill="#111" stroke="#111" stroke-width="0.22" text-anchor="middle" font-weight="bold" >12</text>
<line x1="418.80" y1="365.20" x2="418.80" y2="368.80" stroke="#1a1a1a" stroke-width="1.2" />
<text x="418.80" y="376.40" font-size="7" fill="#111" stroke="#111" stroke-width="0.22" text-anchor="middle" font-weight="bold" >16</text>
<line x1="435.50" y1="365.20" x2="435.50" y2="368.80" stroke="#1a1a1a" stroke-width="1.2" />
<text x="435.50" y="376.40" font-size="7" fill="#111" stroke="#111" stroke-width="0.22" text-anchor="middle" font-weight="bold" >20</text>
<line x1="452.20" y1="365.20" x2="452.20" y2="368.80" stroke="#1a1a1a" stroke-width="1.2" />
<text x="452.20" y="376.40" font-size="7" fill="#111" stroke="#111" stroke-width="0.22" text-anchor="middle" font-weight="bold" >24</text>
<line x1="468.90" y1="365.20" x2="468.90" y2="368.80" stroke="#1a1a1a" stroke-width="1.2" />
<text x="468.90" y="376.40" font-size="7" fill="#111" stroke="#111" stroke-width="0.22" text-anchor="middle" font-weight="bold" >28</text>
<line x1="485.60" y1="365.20" x2="485.60" y2="368.80" stroke="#1a1a1a" stroke-width="1.2" />
<text x="485.60" y="376.40" font-size="7" fill="#111" stroke="#111" stroke-width="0.22" text-anchor="middle" font-weight="bold" >32</text>
<line x1="502.30" y1="365.20" x2="502.30" y2="368.80" stroke="#1a1a1a" stroke-width="1.2" />
<text x="502.30" y="376.40" font-size="7" fill="#111" stroke="#111" stroke-width="0.22" text-anchor="middle" font-weight="bold" >36</text>
<line x1="448.90" y1="258.70" x2="448.90" y2="365.20" stroke="#cdeecd" stroke-width="3.2" />
<line x1="448.90" y1="259.20" x2="448.90" y2="365.20" stroke="#25602c" stroke-width="1.6" stroke-dasharray="2.2 2.2"/>
<path d="M352.00,293.80 L368.70,298.70 L452.20,297.30 L501.80,295.70" fill="none" stroke="#b3262e" stroke-width="1.3"/>
<line x1="352.00" y1="272.60" x2="352.00" y2="314.00" stroke="#95302e" stroke-width="1.4" />
<line x1="349.70" y1="272.60" x2="354.30" y2="272.60" stroke="#95302e" stroke-width="1.4" />
<line x1="349.70" y1="314.00" x2="354.30" y2="314.00" stroke="#95302e" stroke-width="1.4" />
<rect x="349.75" y="291.55" width="4.5" height="4.5" rx="1.6" fill="#b3262e"/>
<line x1="368.70" y1="277.50" x2="368.70" y2="319.80" stroke="#95302e" stroke-width="1.4" />
<line x1="366.40" y1="277.50" x2="371.00" y2="277.50" stroke="#95302e" stroke-width="1.4" />
<line x1="366.40" y1="319.80" x2="371.00" y2="319.80" stroke="#95302e" stroke-width="1.4" />
<rect x="366.45" y="296.45" width="4.5" height="4.5" rx="1.6" fill="#b3262e"/>
<line x1="452.20" y1="276.50" x2="452.20" y2="318.50" stroke="#95302e" stroke-width="1.4" />
<line x1="449.90" y1="276.50" x2="454.50" y2="276.50" stroke="#95302e" stroke-width="1.4" />
<line x1="449.90" y1="318.50" x2="454.50" y2="318.50" stroke="#95302e" stroke-width="1.4" />
<rect x="449.95" y="295.05" width="4.5" height="4.5" rx="1.6" fill="#b3262e"/>
<line x1="501.80" y1="275.00" x2="501.80" y2="317.40" stroke="#95302e" stroke-width="1.4" />
<line x1="499.50" y1="275.00" x2="504.10" y2="275.00" stroke="#95302e" stroke-width="1.4" />
<line x1="499.50" y1="317.40" x2="504.10" y2="317.40" stroke="#95302e" stroke-width="1.4" />
<rect x="499.55" y="293.45" width="4.5" height="4.5" rx="1.6" fill="#b3262e"/>
<path d="M356.60,293.00 L373.10,288.50 L456.50,289.20 L506.20,287.60" fill="none" stroke="#1a1a68" stroke-width="1.3"/>
<line x1="356.60" y1="271.60" x2="356.60" y2="314.00" stroke="#1a1a68" stroke-width="1.4" />
<line x1="354.30" y1="271.60" x2="358.90" y2="271.60" stroke="#1a1a68" stroke-width="1.4" />
<line x1="354.30" y1="314.00" x2="358.90" y2="314.00" stroke="#1a1a68" stroke-width="1.4" />
<circle cx="356.60" cy="293.00" r="2.25" fill="#1a1a68"/>
<line x1="373.10" y1="267.30" x2="373.10" y2="310.00" stroke="#1a1a68" stroke-width="1.4" />
<line x1="370.80" y1="267.30" x2="375.40" y2="267.30" stroke="#1a1a68" stroke-width="1.4" />
<line x1="370.80" y1="310.00" x2="375.40" y2="310.00" stroke="#1a1a68" stroke-width="1.4" />
<circle cx="373.10" cy="288.50" r="2.25" fill="#1a1a68"/>
<line x1="456.50" y1="266.80" x2="456.50" y2="310.50" stroke="#1a1a68" stroke-width="1.4" />
<line x1="454.20" y1="266.80" x2="458.80" y2="266.80" stroke="#1a1a68" stroke-width="1.4" />
<line x1="454.20" y1="310.50" x2="458.80" y2="310.50" stroke="#1a1a68" stroke-width="1.4" />
<circle cx="456.50" cy="289.20" r="2.25" fill="#1a1a68"/>
<line x1="506.20" y1="265.70" x2="506.20" y2="309.30" stroke="#1a1a68" stroke-width="1.4" />
<line x1="503.90" y1="265.70" x2="508.50" y2="265.70" stroke="#1a1a68" stroke-width="1.4" />
<line x1="503.90" y1="309.30" x2="508.50" y2="309.30" stroke="#1a1a68" stroke-width="1.4" />
<circle cx="506.20" cy="287.60" r="2.25" fill="#1a1a68"/>
<text x="1.60" y="406.70" font-size="13.2" fill="#000" stroke="#000" stroke-width="0.22" text-anchor="start" font-weight="bold" >E</text>
<text x="99.60" y="414.50" font-size="7.2" fill="#a02e2e" stroke="#a02e2e" stroke-width="0.22" text-anchor="end" font-weight="bold" textLength="34.6" lengthAdjust="spacingAndGlyphs">Maraviroc</text>
<text x="99.60" y="423.10" font-size="7.2" fill="#242478" stroke="#242478" stroke-width="0.22" text-anchor="end" font-weight="bold" textLength="27.0" lengthAdjust="spacingAndGlyphs">Placebo</text>
<text x="99.60" y="431.70" font-size="7.2" fill="#2d622f" stroke="#2d622f" stroke-width="0.22" text-anchor="end" font-weight="bold" textLength="46.4" lengthAdjust="spacingAndGlyphs">Between-Arm</text>
<text x="110.60" y="407.20" font-size="7" fill="#111" stroke="#111" stroke-width="0.22" text-anchor="start" font-weight="bold" >∆Wk 0-4</text>
<text x="110.60" y="415.20" font-size="7" fill="#a02e2e" stroke="#a02e2e" stroke-width="0.22" text-anchor="start" font-weight="bold" >P=0.55</text>
<text x="110.60" y="423.80" font-size="7" fill="#242478" stroke="#242478" stroke-width="0.22" text-anchor="start" font-weight="bold" >P=0.40</text>
<text x="110.60" y="432.40" font-size="7" fill="#2d622f" stroke="#2d622f" stroke-width="0.22" text-anchor="start" font-weight="bold" >P=0.008</text>
<text x="186.00" y="407.20" font-size="7" fill="#111" stroke="#111" stroke-width="0.22" text-anchor="start" font-weight="bold" >∆Wk 0-24</text>
<text x="186.00" y="415.20" font-size="7" fill="#a02e2e" stroke="#a02e2e" stroke-width="0.22" text-anchor="start" font-weight="bold" >P=0.63</text>
<text x="186.00" y="423.80" font-size="7" fill="#242478" stroke="#242478" stroke-width="0.22" text-anchor="start" font-weight="bold" >P=0.83</text>
<text x="186.00" y="432.40" font-size="7" fill="#2d622f" stroke="#2d622f" stroke-width="0.22" text-anchor="start" font-weight="bold" >P=0.21</text>
<text x="242.10" y="407.20" font-size="7" fill="#111" stroke="#111" stroke-width="0.22" text-anchor="start" font-weight="bold" >∆Wk 24-36</text>
<text x="242.10" y="415.20" font-size="7" fill="#a02e2e" stroke="#a02e2e" stroke-width="0.22" text-anchor="start" font-weight="bold" >P=0.47</text>
<text x="242.10" y="423.80" font-size="7" fill="#242478" stroke="#242478" stroke-width="0.22" text-anchor="start" font-weight="bold" >P=0.08</text>
<text x="242.10" y="432.40" font-size="7" fill="#2d622f" stroke="#2d622f" stroke-width="0.22" text-anchor="start" font-weight="bold" >P=0.52</text>
<line x1="100.00" y1="448.60" x2="100.00" y2="527.40" stroke="#111" stroke-width="1.5" />
<line x1="97.00" y1="527.40" x2="100.60" y2="527.40" stroke="#1a1a1a" stroke-width="1.2" />
<text x="95.80" y="529.30" font-size="7.2" fill="#111" stroke="#111" stroke-width="0.22" text-anchor="end" font-weight="bold" >30</text>
<line x1="97.00" y1="511.64" x2="100.60" y2="511.64" stroke="#1a1a1a" stroke-width="1.2" />
<text x="95.80" y="513.54" font-size="7.2" fill="#111" stroke="#111" stroke-width="0.22" text-anchor="end" font-weight="bold" >35</text>
<line x1="97.00" y1="495.88" x2="100.60" y2="495.88" stroke="#1a1a1a" stroke-width="1.2" />
<text x="95.80" y="497.78" font-size="7.2" fill="#111" stroke="#111" stroke-width="0.22" text-anchor="end" font-weight="bold" >40</text>
<line x1="97.00" y1="480.12" x2="100.60" y2="480.12" stroke="#1a1a1a" stroke-width="1.2" />
<text x="95.80" y="482.02" font-size="7.2" fill="#111" stroke="#111" stroke-width="0.22" text-anchor="end" font-weight="bold" >45</text>
<line x1="97.00" y1="464.36" x2="100.60" y2="464.36" stroke="#1a1a1a" stroke-width="1.2" />
<text x="95.80" y="466.26" font-size="7.2" fill="#111" stroke="#111" stroke-width="0.22" text-anchor="end" font-weight="bold" >50</text>
<line x1="97.00" y1="448.60" x2="100.60" y2="448.60" stroke="#1a1a1a" stroke-width="1.2" />
<text x="95.80" y="450.50" font-size="7.2" fill="#111" stroke="#111" stroke-width="0.22" text-anchor="end" font-weight="bold" >55</text>
<line x1="97.40" y1="527.40" x2="102.00" y2="527.40" stroke="#1a1a1a" stroke-width="1.2" />
<line x1="100.00" y1="534.20" x2="100.00" y2="543.00" stroke="#111" stroke-width="1.5" />
<line x1="97.40" y1="534.20" x2="102.00" y2="534.20" stroke="#1a1a1a" stroke-width="1.2" />
<line x1="97.00" y1="543.00" x2="100.60" y2="543.00" stroke="#1a1a1a" stroke-width="1.2" />
<text transform="translate(68.60,495.80) rotate(-90)" font-size="7.7" font-weight="bold" fill="#111" stroke="#111" stroke-width="0.22" text-anchor="middle" textLength="90.2" lengthAdjust="spacingAndGlyphs">% EM (CD45RA- CCR7-)</text>
<text transform="translate(77.80,495.40) rotate(-90)" font-size="7.7" font-weight="bold" fill="#111" stroke="#111" stroke-width="0.22" text-anchor="middle" textLength="46.0" lengthAdjust="spacingAndGlyphs">CD4+ T cells</text>
<line x1="108.80" y1="552.90" x2="264.00" y2="552.90" stroke="#111" stroke-width="1.55" />
<line x1="109.40" y1="552.30" x2="109.40" y2="555.90" stroke="#1a1a1a" stroke-width="1.2" />
<text x="109.40" y="563.50" font-size="7" fill="#111" stroke="#111" stroke-width="0.22" text-anchor="middle" font-weight="bold" >0</text>
<line x1="126.08" y1="552.30" x2="126.08" y2="555.90" stroke="#1a1a1a" stroke-width="1.2" />
<text x="126.08" y="563.50" font-size="7" fill="#111" stroke="#111" stroke-width="0.22" text-anchor="middle" font-weight="bold" >4</text>
<line x1="142.76" y1="552.30" x2="142.76" y2="555.90" stroke="#1a1a1a" stroke-width="1.2" />
<text x="142.76" y="563.50" font-size="7" fill="#111" stroke="#111" stroke-width="0.22" text-anchor="middle" font-weight="bold" >8</text>
<line x1="159.44" y1="552.30" x2="159.44" y2="555.90" stroke="#1a1a1a" stroke-width="1.2" />
<text x="159.44" y="563.50" font-size="7" fill="#111" stroke="#111" stroke-width="0.22" text-anchor="middle" font-weight="bold" >12</text>
<line x1="176.12" y1="552.30" x2="176.12" y2="555.90" stroke="#1a1a1a" stroke-width="1.2" />
<text x="176.12" y="563.50" font-size="7" fill="#111" stroke="#111" stroke-width="0.22" text-anchor="middle" font-weight="bold" >16</text>
<line x1="192.80" y1="552.30" x2="192.80" y2="555.90" stroke="#1a1a1a" stroke-width="1.2" />
<text x="192.80" y="563.50" font-size="7" fill="#111" stroke="#111" stroke-width="0.22" text-anchor="middle" font-weight="bold" >20</text>
<line x1="209.48" y1="552.30" x2="209.48" y2="555.90" stroke="#1a1a1a" stroke-width="1.2" />
<text x="209.48" y="563.50" font-size="7" fill="#111" stroke="#111" stroke-width="0.22" text-anchor="middle" font-weight="bold" >24</text>
<line x1="226.16" y1="552.30" x2="226.16" y2="555.90" stroke="#1a1a1a" stroke-width="1.2" />
<text x="226.16" y="563.50" font-size="7" fill="#111" stroke="#111" stroke-width="0.22" text-anchor="middle" font-weight="bold" >28</text>
<line x1="242.84" y1="552.30" x2="242.84" y2="555.90" stroke="#1a1a1a" stroke-width="1.2" />
<text x="242.84" y="563.50" font-size="7" fill="#111" stroke="#111" stroke-width="0.22" text-anchor="middle" font-weight="bold" >32</text>
<line x1="259.52" y1="552.30" x2="259.52" y2="555.90" stroke="#1a1a1a" stroke-width="1.2" />
<text x="259.52" y="563.50" font-size="7" fill="#111" stroke="#111" stroke-width="0.22" text-anchor="middle" font-weight="bold" >36</text>
<line x1="206.30" y1="446.40" x2="206.30" y2="552.30" stroke="#cdeecd" stroke-width="3.2" />
<line x1="206.30" y1="446.90" x2="206.30" y2="552.30" stroke="#25602c" stroke-width="1.6" stroke-dasharray="2.2 2.2"/>
<path d="M109.30,492.60 L125.90,502.60 L209.20,498.40 L259.20,502.30" fill="none" stroke="#b3262e" stroke-width="1.3"/>
<line x1="109.30" y1="470.30" x2="109.30" y2="515.30" stroke="#95302e" stroke-width="1.4" />
<line x1="107.00" y1="470.30" x2="111.60" y2="470.30" stroke="#95302e" stroke-width="1.4" />
<line x1="107.00" y1="515.30" x2="111.60" y2="515.30" stroke="#95302e" stroke-width="1.4" />
<rect x="107.05" y="490.35" width="4.5" height="4.5" rx="1.6" fill="#b3262e"/>
<line x1="125.90" y1="480.00" x2="125.90" y2="524.80" stroke="#95302e" stroke-width="1.4" />
<line x1="123.60" y1="480.00" x2="128.20" y2="480.00" stroke="#95302e" stroke-width="1.4" />
<line x1="123.60" y1="524.80" x2="128.20" y2="524.80" stroke="#95302e" stroke-width="1.4" />
<rect x="123.65" y="500.35" width="4.5" height="4.5" rx="1.6" fill="#b3262e"/>
<line x1="209.20" y1="475.80" x2="209.20" y2="520.80" stroke="#95302e" stroke-width="1.4" />
<line x1="206.90" y1="475.80" x2="211.50" y2="475.80" stroke="#95302e" stroke-width="1.4" />
<line x1="206.90" y1="520.80" x2="211.50" y2="520.80" stroke="#95302e" stroke-width="1.4" />
<rect x="206.95" y="496.15" width="4.5" height="4.5" rx="1.6" fill="#b3262e"/>
<line x1="259.20" y1="480.00" x2="259.20" y2="525.00" stroke="#95302e" stroke-width="1.4" />
<line x1="256.90" y1="480.00" x2="261.50" y2="480.00" stroke="#95302e" stroke-width="1.4" />
<line x1="256.90" y1="525.00" x2="261.50" y2="525.00" stroke="#95302e" stroke-width="1.4" />
<rect x="256.95" y="500.05" width="4.5" height="4.5" rx="1.6" fill="#b3262e"/>
<path d="M113.30,489.20 L130.40,478.90 L213.80,485.00 L263.80,494.20" fill="none" stroke="#1a1a68" stroke-width="1.3"/>
<line x1="113.30" y1="466.20" x2="113.30" y2="512.00" stroke="#1a1a68" stroke-width="1.4" />
<line x1="111.00" y1="466.20" x2="115.60" y2="466.20" stroke="#1a1a68" stroke-width="1.4" />
<line x1="111.00" y1="512.00" x2="115.60" y2="512.00" stroke="#1a1a68" stroke-width="1.4" />
<circle cx="113.30" cy="489.20" r="2.25" fill="#1a1a68"/>
<line x1="130.40" y1="456.00" x2="130.40" y2="502.00" stroke="#1a1a68" stroke-width="1.4" />
<line x1="128.10" y1="456.00" x2="132.70" y2="456.00" stroke="#1a1a68" stroke-width="1.4" />
<line x1="128.10" y1="502.00" x2="132.70" y2="502.00" stroke="#1a1a68" stroke-width="1.4" />
<circle cx="130.40" cy="478.90" r="2.25" fill="#1a1a68"/>
<line x1="213.80" y1="461.90" x2="213.80" y2="508.00" stroke="#1a1a68" stroke-width="1.4" />
<line x1="211.50" y1="461.90" x2="216.10" y2="461.90" stroke="#1a1a68" stroke-width="1.4" />
<line x1="211.50" y1="508.00" x2="216.10" y2="508.00" stroke="#1a1a68" stroke-width="1.4" />
<circle cx="213.80" cy="485.00" r="2.25" fill="#1a1a68"/>
<line x1="263.80" y1="471.20" x2="263.80" y2="517.30" stroke="#1a1a68" stroke-width="1.4" />
<line x1="261.50" y1="471.20" x2="266.10" y2="471.20" stroke="#1a1a68" stroke-width="1.4" />
<line x1="261.50" y1="517.30" x2="266.10" y2="517.30" stroke="#1a1a68" stroke-width="1.4" />
<circle cx="263.80" cy="494.20" r="2.25" fill="#1a1a68"/>
<text x="295.40" y="406.70" font-size="13.2" fill="#000" stroke="#000" stroke-width="0.22" text-anchor="start" font-weight="bold" >F</text>
<text x="342.10" y="414.50" font-size="7.2" fill="#a02e2e" stroke="#a02e2e" stroke-width="0.22" text-anchor="end" font-weight="bold" textLength="34.6" lengthAdjust="spacingAndGlyphs">Maraviroc</text>
<text x="342.10" y="423.10" font-size="7.2" fill="#242478" stroke="#242478" stroke-width="0.22" text-anchor="end" font-weight="bold" textLength="27.0" lengthAdjust="spacingAndGlyphs">Placebo</text>
<text x="342.10" y="431.70" font-size="7.2" fill="#2d622f" stroke="#2d622f" stroke-width="0.22" text-anchor="end" font-weight="bold" textLength="46.4" lengthAdjust="spacingAndGlyphs">Between-Arm</text>
<text x="353.30" y="407.20" font-size="7" fill="#111" stroke="#111" stroke-width="0.22" text-anchor="start" font-weight="bold" >∆Wk 0-4</text>
<text x="353.30" y="415.20" font-size="7" fill="#a02e2e" stroke="#a02e2e" stroke-width="0.22" text-anchor="start" font-weight="bold" >P=0.23</text>
<text x="353.30" y="423.80" font-size="7" fill="#242478" stroke="#242478" stroke-width="0.22" text-anchor="start" font-weight="bold" >P=0.66</text>
<text x="353.30" y="432.40" font-size="7" fill="#2d622f" stroke="#2d622f" stroke-width="0.22" text-anchor="start" font-weight="bold" >P=0.52</text>
<text x="428.50" y="407.20" font-size="7" fill="#111" stroke="#111" stroke-width="0.22" text-anchor="start" font-weight="bold" >∆Wk 0-24</text>
<text x="428.50" y="415.20" font-size="7" fill="#a02e2e" stroke="#a02e2e" stroke-width="0.22" text-anchor="start" font-weight="bold" >P=0.60</text>
<text x="428.50" y="423.80" font-size="7" fill="#242478" stroke="#242478" stroke-width="0.22" text-anchor="start" font-weight="bold" >P=0.68</text>
<text x="428.50" y="432.40" font-size="7" fill="#2d622f" stroke="#2d622f" stroke-width="0.22" text-anchor="start" font-weight="bold" >P=0.50</text>
<text x="484.50" y="407.20" font-size="7" fill="#111" stroke="#111" stroke-width="0.22" text-anchor="start" font-weight="bold" >∆Wk 24-36</text>
<text x="484.50" y="415.20" font-size="7" fill="#a02e2e" stroke="#a02e2e" stroke-width="0.22" text-anchor="start" font-weight="bold" >P=0.31</text>
<text x="484.50" y="423.80" font-size="7" fill="#242478" stroke="#242478" stroke-width="0.22" text-anchor="start" font-weight="bold" >P=0.06</text>
<text x="484.50" y="432.40" font-size="7" fill="#2d622f" stroke="#2d622f" stroke-width="0.22" text-anchor="start" font-weight="bold" >P=0.57</text>
<line x1="342.40" y1="448.70" x2="342.40" y2="527.40" stroke="#111" stroke-width="1.5" />
<line x1="339.40" y1="527.40" x2="343.00" y2="527.40" stroke="#1a1a1a" stroke-width="1.2" />
<text x="338.20" y="529.30" font-size="7.2" fill="#111" stroke="#111" stroke-width="0.22" text-anchor="end" font-weight="bold" >30</text>
<line x1="339.40" y1="501.17" x2="343.00" y2="501.17" stroke="#1a1a1a" stroke-width="1.2" />
<text x="338.20" y="503.07" font-size="7.2" fill="#111" stroke="#111" stroke-width="0.22" text-anchor="end" font-weight="bold" >40</text>
<line x1="339.40" y1="474.94" x2="343.00" y2="474.94" stroke="#1a1a1a" stroke-width="1.2" />
<text x="338.20" y="476.84" font-size="7.2" fill="#111" stroke="#111" stroke-width="0.22" text-anchor="end" font-weight="bold" >50</text>
<line x1="339.40" y1="448.71" x2="343.00" y2="448.71" stroke="#1a1a1a" stroke-width="1.2" />
<text x="338.20" y="450.61" font-size="7.2" fill="#111" stroke="#111" stroke-width="0.22" text-anchor="end" font-weight="bold" >60</text>
<line x1="339.80" y1="527.40" x2="344.40" y2="527.40" stroke="#1a1a1a" stroke-width="1.2" />
<line x1="342.40" y1="534.40" x2="342.40" y2="542.80" stroke="#111" stroke-width="1.5" />
<line x1="339.80" y1="534.40" x2="344.40" y2="534.40" stroke="#1a1a1a" stroke-width="1.2" />
<line x1="339.40" y1="542.80" x2="343.00" y2="542.80" stroke="#1a1a1a" stroke-width="1.2" />
<text transform="translate(310.00,497.80) rotate(-90)" font-size="7.7" font-weight="bold" fill="#111" stroke="#111" stroke-width="0.22" text-anchor="middle" textLength="91.8" lengthAdjust="spacingAndGlyphs">% EM (CD45RA-CCR7-)</text>
<text transform="translate(319.80,496.10) rotate(-90)" font-size="7.7" font-weight="bold" fill="#111" stroke="#111" stroke-width="0.22" text-anchor="middle" textLength="46.0" lengthAdjust="spacingAndGlyphs">CD8+ T cells</text>
<line x1="351.40" y1="552.90" x2="506.60" y2="552.90" stroke="#111" stroke-width="1.55" />
<line x1="352.00" y1="552.30" x2="352.00" y2="555.90" stroke="#1a1a1a" stroke-width="1.2" />
<text x="352.00" y="563.50" font-size="7" fill="#111" stroke="#111" stroke-width="0.22" text-anchor="middle" font-weight="bold" >0</text>
<line x1="368.70" y1="552.30" x2="368.70" y2="555.90" stroke="#1a1a1a" stroke-width="1.2" />
<text x="368.70" y="563.50" font-size="7" fill="#111" stroke="#111" stroke-width="0.22" text-anchor="middle" font-weight="bold" >4</text>
<line x1="385.40" y1="552.30" x2="385.40" y2="555.90" stroke="#1a1a1a" stroke-width="1.2" />
<text x="385.40" y="563.50" font-size="7" fill="#111" stroke="#111" stroke-width="0.22" text-anchor="middle" font-weight="bold" >8</text>
<line x1="402.10" y1="552.30" x2="402.10" y2="555.90" stroke="#1a1a1a" stroke-width="1.2" />
<text x="402.10" y="563.50" font-size="7" fill="#111" stroke="#111" stroke-width="0.22" text-anchor="middle" font-weight="bold" >12</text>
<line x1="418.80" y1="552.30" x2="418.80" y2="555.90" stroke="#1a1a1a" stroke-width="1.2" />
<text x="418.80" y="563.50" font-size="7" fill="#111" stroke="#111" stroke-width="0.22" text-anchor="middle" font-weight="bold" >16</text>
<line x1="435.50" y1="552.30" x2="435.50" y2="555.90" stroke="#1a1a1a" stroke-width="1.2" />
<text x="435.50" y="563.50" font-size="7" fill="#111" stroke="#111" stroke-width="0.22" text-anchor="middle" font-weight="bold" >20</text>
<line x1="452.20" y1="552.30" x2="452.20" y2="555.90" stroke="#1a1a1a" stroke-width="1.2" />
<text x="452.20" y="563.50" font-size="7" fill="#111" stroke="#111" stroke-width="0.22" text-anchor="middle" font-weight="bold" >24</text>
<line x1="468.90" y1="552.30" x2="468.90" y2="555.90" stroke="#1a1a1a" stroke-width="1.2" />
<text x="468.90" y="563.50" font-size="7" fill="#111" stroke="#111" stroke-width="0.22" text-anchor="middle" font-weight="bold" >28</text>
<line x1="485.60" y1="552.30" x2="485.60" y2="555.90" stroke="#1a1a1a" stroke-width="1.2" />
<text x="485.60" y="563.50" font-size="7" fill="#111" stroke="#111" stroke-width="0.22" text-anchor="middle" font-weight="bold" >32</text>
<line x1="502.30" y1="552.30" x2="502.30" y2="555.90" stroke="#1a1a1a" stroke-width="1.2" />
<text x="502.30" y="563.50" font-size="7" fill="#111" stroke="#111" stroke-width="0.22" text-anchor="middle" font-weight="bold" >36</text>
<line x1="448.90" y1="445.90" x2="448.90" y2="552.30" stroke="#cdeecd" stroke-width="3.2" />
<line x1="448.90" y1="446.40" x2="448.90" y2="552.30" stroke="#25602c" stroke-width="1.6" stroke-dasharray="2.2 2.2"/>
<path d="M352.00,479.00 L368.70,484.20 L452.20,476.40 L501.80,481.00" fill="none" stroke="#b3262e" stroke-width="1.3"/>
<line x1="352.00" y1="462.40" x2="352.00" y2="494.20" stroke="#95302e" stroke-width="1.4" />
<line x1="349.70" y1="462.40" x2="354.30" y2="462.40" stroke="#95302e" stroke-width="1.4" />
<line x1="349.70" y1="494.20" x2="354.30" y2="494.20" stroke="#95302e" stroke-width="1.4" />
<rect x="349.75" y="476.75" width="4.5" height="4.5" rx="1.6" fill="#b3262e"/>
<line x1="368.70" y1="468.20" x2="368.70" y2="499.90" stroke="#95302e" stroke-width="1.4" />
<line x1="366.40" y1="468.20" x2="371.00" y2="468.20" stroke="#95302e" stroke-width="1.4" />
<line x1="366.40" y1="499.90" x2="371.00" y2="499.90" stroke="#95302e" stroke-width="1.4" />
<rect x="366.45" y="481.95" width="4.5" height="4.5" rx="1.6" fill="#b3262e"/>
<line x1="452.20" y1="460.20" x2="452.20" y2="492.00" stroke="#95302e" stroke-width="1.4" />
<line x1="449.90" y1="460.20" x2="454.50" y2="460.20" stroke="#95302e" stroke-width="1.4" />
<line x1="449.90" y1="492.00" x2="454.50" y2="492.00" stroke="#95302e" stroke-width="1.4" />
<rect x="449.95" y="474.15" width="4.5" height="4.5" rx="1.6" fill="#b3262e"/>
<line x1="501.80" y1="464.80" x2="501.80" y2="496.50" stroke="#95302e" stroke-width="1.4" />
<line x1="499.50" y1="464.80" x2="504.10" y2="464.80" stroke="#95302e" stroke-width="1.4" />
<line x1="499.50" y1="496.50" x2="504.10" y2="496.50" stroke="#95302e" stroke-width="1.4" />
<rect x="499.55" y="478.75" width="4.5" height="4.5" rx="1.6" fill="#b3262e"/>
<path d="M356.60,480.80 L373.10,483.60 L456.00,483.30 L506.20,491.00" fill="none" stroke="#1a1a68" stroke-width="1.3"/>
<line x1="356.60" y1="465.20" x2="356.60" y2="497.80" stroke="#1a1a68" stroke-width="1.4" />
<line x1="354.30" y1="465.20" x2="358.90" y2="465.20" stroke="#1a1a68" stroke-width="1.4" />
<line x1="354.30" y1="497.80" x2="358.90" y2="497.80" stroke="#1a1a68" stroke-width="1.4" />
<circle cx="356.60" cy="480.80" r="2.25" fill="#1a1a68"/>
<line x1="373.10" y1="466.70" x2="373.10" y2="499.50" stroke="#1a1a68" stroke-width="1.4" />
<line x1="370.80" y1="466.70" x2="375.40" y2="466.70" stroke="#1a1a68" stroke-width="1.4" />
<line x1="370.80" y1="499.50" x2="375.40" y2="499.50" stroke="#1a1a68" stroke-width="1.4" />
<circle cx="373.10" cy="483.60" r="2.25" fill="#1a1a68"/>
<line x1="456.00" y1="466.50" x2="456.00" y2="499.50" stroke="#1a1a68" stroke-width="1.4" />
<line x1="453.70" y1="466.50" x2="458.30" y2="466.50" stroke="#1a1a68" stroke-width="1.4" />
<line x1="453.70" y1="499.50" x2="458.30" y2="499.50" stroke="#1a1a68" stroke-width="1.4" />
<circle cx="456.00" cy="483.30" r="2.25" fill="#1a1a68"/>
<line x1="506.20" y1="474.80" x2="506.20" y2="507.50" stroke="#1a1a68" stroke-width="1.4" />
<line x1="503.90" y1="474.80" x2="508.50" y2="474.80" stroke="#1a1a68" stroke-width="1.4" />
<line x1="503.90" y1="507.50" x2="508.50" y2="507.50" stroke="#1a1a68" stroke-width="1.4" />
<circle cx="506.20" cy="491.00" r="2.25" fill="#1a1a68"/>
<text x="1.40" y="595.30" font-size="13.2" fill="#000" stroke="#000" stroke-width="0.22" text-anchor="start" font-weight="bold" >G</text>
<text x="99.60" y="605.10" font-size="7.2" fill="#a02e2e" stroke="#a02e2e" stroke-width="0.22" text-anchor="end" font-weight="bold" textLength="34.6" lengthAdjust="spacingAndGlyphs">Maraviroc</text>
<text x="99.60" y="613.70" font-size="7.2" fill="#242478" stroke="#242478" stroke-width="0.22" text-anchor="end" font-weight="bold" textLength="27.0" lengthAdjust="spacingAndGlyphs">Placebo</text>
<text x="99.60" y="622.30" font-size="7.2" fill="#2d622f" stroke="#2d622f" stroke-width="0.22" text-anchor="end" font-weight="bold" textLength="46.4" lengthAdjust="spacingAndGlyphs">Between-Arm</text>
<text x="110.60" y="597.80" font-size="7" fill="#111" stroke="#111" stroke-width="0.22" text-anchor="start" font-weight="bold" >∆Wk 0-4</text>
<text x="110.60" y="605.80" font-size="7" fill="#a02e2e" stroke="#a02e2e" stroke-width="0.22" text-anchor="start" font-weight="bold" >P=0.34</text>
<text x="110.60" y="614.40" font-size="7" fill="#242478" stroke="#242478" stroke-width="0.22" text-anchor="start" font-weight="bold" >P=0.47</text>
<text x="110.60" y="623.00" font-size="7" fill="#2d622f" stroke="#2d622f" stroke-width="0.22" text-anchor="start" font-weight="bold" >P=0.94</text>
<text x="186.00" y="597.80" font-size="7" fill="#111" stroke="#111" stroke-width="0.22" text-anchor="start" font-weight="bold" >∆Wk 0-24</text>
<text x="186.00" y="605.80" font-size="7" fill="#a02e2e" stroke="#a02e2e" stroke-width="0.22" text-anchor="start" font-weight="bold" >P=0.17</text>
<text x="186.00" y="614.40" font-size="7" fill="#242478" stroke="#242478" stroke-width="0.22" text-anchor="start" font-weight="bold" >P=0.90</text>
<text x="186.00" y="623.00" font-size="7" fill="#2d622f" stroke="#2d622f" stroke-width="0.22" text-anchor="start" font-weight="bold" >P=0.21</text>
<text x="242.10" y="597.80" font-size="7" fill="#111" stroke="#111" stroke-width="0.22" text-anchor="start" font-weight="bold" >∆Wk 24-36</text>
<text x="242.10" y="605.80" font-size="7" fill="#a02e2e" stroke="#a02e2e" stroke-width="0.22" text-anchor="start" font-weight="bold" >P=0.50</text>
<text x="242.10" y="614.40" font-size="7" fill="#242478" stroke="#242478" stroke-width="0.22" text-anchor="start" font-weight="bold" >P=0.86</text>
<text x="242.10" y="623.00" font-size="7" fill="#2d622f" stroke="#2d622f" stroke-width="0.22" text-anchor="start" font-weight="bold" >P=0.72</text>
<line x1="100.00" y1="639.60" x2="100.00" y2="733.60" stroke="#111" stroke-width="1.5" />
<line x1="97.00" y1="733.60" x2="100.60" y2="733.60" stroke="#1a1a1a" stroke-width="1.2" />
<line x1="97.00" y1="714.80" x2="100.60" y2="714.80" stroke="#1a1a1a" stroke-width="1.2" />
<line x1="97.00" y1="696.00" x2="100.60" y2="696.00" stroke="#1a1a1a" stroke-width="1.2" />
<line x1="97.00" y1="677.20" x2="100.60" y2="677.20" stroke="#1a1a1a" stroke-width="1.2" />
<line x1="97.00" y1="658.40" x2="100.60" y2="658.40" stroke="#1a1a1a" stroke-width="1.2" />
<line x1="97.00" y1="639.60" x2="100.60" y2="639.60" stroke="#1a1a1a" stroke-width="1.2" />
<text transform="translate(78.80,684.30) rotate(-90)" font-size="7.7" font-weight="bold" fill="#111" stroke="#111" stroke-width="0.22" text-anchor="middle" textLength="103.3" lengthAdjust="spacingAndGlyphs">% TEMRA (CD45RA+CCR7-)</text>
<text transform="translate(88.40,686.20) rotate(-90)" font-size="7.7" font-weight="bold" fill="#111" stroke="#111" stroke-width="0.22" text-anchor="middle" textLength="46.5" lengthAdjust="spacingAndGlyphs">CD4+ T cells</text>
<line x1="108.80" y1="743.60" x2="264.00" y2="743.60" stroke="#111" stroke-width="1.55" />
<line x1="109.40" y1="743.00" x2="109.40" y2="746.60" stroke="#1a1a1a" stroke-width="1.2" />
<text x="109.40" y="754.20" font-size="7" fill="#111" stroke="#111" stroke-width="0.22" text-anchor="middle" font-weight="bold" >0</text>
<line x1="126.08" y1="743.00" x2="126.08" y2="746.60" stroke="#1a1a1a" stroke-width="1.2" />
<text x="126.08" y="754.20" font-size="7" fill="#111" stroke="#111" stroke-width="0.22" text-anchor="middle" font-weight="bold" >4</text>
<line x1="142.76" y1="743.00" x2="142.76" y2="746.60" stroke="#1a1a1a" stroke-width="1.2" />
<text x="142.76" y="754.20" font-size="7" fill="#111" stroke="#111" stroke-width="0.22" text-anchor="middle" font-weight="bold" >8</text>
<line x1="159.44" y1="743.00" x2="159.44" y2="746.60" stroke="#1a1a1a" stroke-width="1.2" />
<text x="159.44" y="754.20" font-size="7" fill="#111" stroke="#111" stroke-width="0.22" text-anchor="middle" font-weight="bold" >12</text>
<line x1="176.12" y1="743.00" x2="176.12" y2="746.60" stroke="#1a1a1a" stroke-width="1.2" />
<text x="176.12" y="754.20" font-size="7" fill="#111" stroke="#111" stroke-width="0.22" text-anchor="middle" font-weight="bold" >16</text>
<line x1="192.80" y1="743.00" x2="192.80" y2="746.60" stroke="#1a1a1a" stroke-width="1.2" />
<text x="192.80" y="754.20" font-size="7" fill="#111" stroke="#111" stroke-width="0.22" text-anchor="middle" font-weight="bold" >20</text>
<line x1="209.48" y1="743.00" x2="209.48" y2="746.60" stroke="#1a1a1a" stroke-width="1.2" />
<text x="209.48" y="754.20" font-size="7" fill="#111" stroke="#111" stroke-width="0.22" text-anchor="middle" font-weight="bold" >24</text>
<line x1="226.16" y1="743.00" x2="226.16" y2="746.60" stroke="#1a1a1a" stroke-width="1.2" />
<text x="226.16" y="754.20" font-size="7" fill="#111" stroke="#111" stroke-width="0.22" text-anchor="middle" font-weight="bold" >28</text>
<line x1="242.84" y1="743.00" x2="242.84" y2="746.60" stroke="#1a1a1a" stroke-width="1.2" />
<text x="242.84" y="754.20" font-size="7" fill="#111" stroke="#111" stroke-width="0.22" text-anchor="middle" font-weight="bold" >32</text>
<line x1="259.52" y1="743.00" x2="259.52" y2="746.60" stroke="#1a1a1a" stroke-width="1.2" />
<text x="259.52" y="754.20" font-size="7" fill="#111" stroke="#111" stroke-width="0.22" text-anchor="middle" font-weight="bold" >36</text>
<line x1="206.30" y1="636.00" x2="206.30" y2="743.00" stroke="#cdeecd" stroke-width="3.2" />
<line x1="206.30" y1="636.50" x2="206.30" y2="743.00" stroke="#25602c" stroke-width="1.6" stroke-dasharray="2.2 2.2"/>
<path d="M109.30,678.30 L125.90,673.50 L209.20,685.50 L259.20,682.70" fill="none" stroke="#b3262e" stroke-width="1.3"/>
<line x1="109.30" y1="663.10" x2="109.30" y2="693.40" stroke="#95302e" stroke-width="1.4" />
<line x1="107.00" y1="663.10" x2="111.60" y2="663.10" stroke="#95302e" stroke-width="1.4" />
<line x1="107.00" y1="693.40" x2="111.60" y2="693.40" stroke="#95302e" stroke-width="1.4" />
<rect x="107.05" y="676.05" width="4.5" height="4.5" rx="1.6" fill="#b3262e"/>
<line x1="125.90" y1="658.10" x2="125.90" y2="688.00" stroke="#95302e" stroke-width="1.4" />
<line x1="123.60" y1="658.10" x2="128.20" y2="658.10" stroke="#95302e" stroke-width="1.4" />
<line x1="123.60" y1="688.00" x2="128.20" y2="688.00" stroke="#95302e" stroke-width="1.4" />
<rect x="123.65" y="671.25" width="4.5" height="4.5" rx="1.6" fill="#b3262e"/>
<line x1="209.20" y1="670.50" x2="209.20" y2="700.50" stroke="#95302e" stroke-width="1.4" />
<line x1="206.90" y1="670.50" x2="211.50" y2="670.50" stroke="#95302e" stroke-width="1.4" />
<line x1="206.90" y1="700.50" x2="211.50" y2="700.50" stroke="#95302e" stroke-width="1.4" />
<rect x="206.95" y="683.25" width="4.5" height="4.5" rx="1.6" fill="#b3262e"/>
<line x1="259.20" y1="667.70" x2="259.20" y2="697.70" stroke="#95302e" stroke-width="1.4" />
<line x1="256.90" y1="667.70" x2="261.50" y2="667.70" stroke="#95302e" stroke-width="1.4" />
<line x1="256.90" y1="697.70" x2="261.50" y2="697.70" stroke="#95302e" stroke-width="1.4" />
<rect x="256.95" y="680.45" width="4.5" height="4.5" rx="1.6" fill="#b3262e"/>
<path d="M113.30,690.40 L130.40,685.50 L213.80,689.00 L263.80,688.00" fill="none" stroke="#1a1a68" stroke-width="1.3"/>
<line x1="113.30" y1="675.20" x2="113.30" y2="706.50" stroke="#1a1a68" stroke-width="1.4" />
<line x1="111.00" y1="675.20" x2="115.60" y2="675.20" stroke="#1a1a68" stroke-width="1.4" />
<line x1="111.00" y1="706.50" x2="115.60" y2="706.50" stroke="#1a1a68" stroke-width="1.4" />
<circle cx="113.30" cy="690.40" r="2.25" fill="#1a1a68"/>
<line x1="130.40" y1="670.20" x2="130.40" y2="701.50" stroke="#1a1a68" stroke-width="1.4" />
<line x1="128.10" y1="670.20" x2="132.70" y2="670.20" stroke="#1a1a68" stroke-width="1.4" />
<line x1="128.10" y1="701.50" x2="132.70" y2="701.50" stroke="#1a1a68" stroke-width="1.4" />
<circle cx="130.40" cy="685.50" r="2.25" fill="#1a1a68"/>
<line x1="213.80" y1="673.50" x2="213.80" y2="704.60" stroke="#1a1a68" stroke-width="1.4" />
<line x1="211.50" y1="673.50" x2="216.10" y2="673.50" stroke="#1a1a68" stroke-width="1.4" />
<line x1="211.50" y1="704.60" x2="216.10" y2="704.60" stroke="#1a1a68" stroke-width="1.4" />
<circle cx="213.80" cy="689.00" r="2.25" fill="#1a1a68"/>
<line x1="263.80" y1="672.30" x2="263.80" y2="704.00" stroke="#1a1a68" stroke-width="1.4" />
<line x1="261.50" y1="672.30" x2="266.10" y2="672.30" stroke="#1a1a68" stroke-width="1.4" />
<line x1="261.50" y1="704.00" x2="266.10" y2="704.00" stroke="#1a1a68" stroke-width="1.4" />
<circle cx="263.80" cy="688.00" r="2.25" fill="#1a1a68"/>
<text x="296.20" y="595.00" font-size="13.2" fill="#000" stroke="#000" stroke-width="0.22" text-anchor="start" font-weight="bold" >H</text>
<text x="342.10" y="605.10" font-size="7.2" fill="#a02e2e" stroke="#a02e2e" stroke-width="0.22" text-anchor="end" font-weight="bold" textLength="34.6" lengthAdjust="spacingAndGlyphs">Maraviroc</text>
<text x="342.10" y="613.70" font-size="7.2" fill="#242478" stroke="#242478" stroke-width="0.22" text-anchor="end" font-weight="bold" textLength="27.0" lengthAdjust="spacingAndGlyphs">Placebo</text>
<text x="342.10" y="622.30" font-size="7.2" fill="#2d622f" stroke="#2d622f" stroke-width="0.22" text-anchor="end" font-weight="bold" textLength="46.4" lengthAdjust="spacingAndGlyphs">Between-Arm</text>
<text x="353.30" y="597.80" font-size="7" fill="#111" stroke="#111" stroke-width="0.22" text-anchor="start" font-weight="bold" >∆Wk 0-4</text>
<text x="353.30" y="605.80" font-size="7" fill="#a02e2e" stroke="#a02e2e" stroke-width="0.22" text-anchor="start" font-weight="bold" >P=0.17</text>
<text x="353.30" y="614.40" font-size="7" fill="#242478" stroke="#242478" stroke-width="0.22" text-anchor="start" font-weight="bold" >P=0.58</text>
<text x="353.30" y="623.00" font-size="7" fill="#2d622f" stroke="#2d622f" stroke-width="0.22" text-anchor="start" font-weight="bold" >P=0.12</text>
<text x="428.50" y="597.80" font-size="7" fill="#111" stroke="#111" stroke-width="0.22" text-anchor="start" font-weight="bold" >∆Wk 0-24</text>
<text x="428.50" y="605.80" font-size="7" fill="#a02e2e" stroke="#a02e2e" stroke-width="0.22" text-anchor="start" font-weight="bold" >P=0.79</text>
<text x="428.50" y="614.40" font-size="7" fill="#242478" stroke="#242478" stroke-width="0.22" text-anchor="start" font-weight="bold" >P=0.81</text>
<text x="428.50" y="623.00" font-size="7" fill="#2d622f" stroke="#2d622f" stroke-width="0.22" text-anchor="start" font-weight="bold" >P=0.76</text>
<text x="484.50" y="597.80" font-size="7" fill="#111" stroke="#111" stroke-width="0.22" text-anchor="start" font-weight="bold" >∆Wk 24-36</text>
<text x="484.50" y="605.80" font-size="7" fill="#a02e2e" stroke="#a02e2e" stroke-width="0.22" text-anchor="start" font-weight="bold" >P=0.87</text>
<text x="484.50" y="614.40" font-size="7" fill="#242478" stroke="#242478" stroke-width="0.22" text-anchor="start" font-weight="bold" >P=0.61</text>
<text x="484.50" y="623.00" font-size="7" fill="#2d622f" stroke="#2d622f" stroke-width="0.22" text-anchor="start" font-weight="bold" >P=0.62</text>
<line x1="342.40" y1="639.40" x2="342.40" y2="734.00" stroke="#111" stroke-width="1.5" />
<line x1="339.40" y1="734.00" x2="343.00" y2="734.00" stroke="#1a1a1a" stroke-width="1.2" />
<text x="338.20" y="735.90" font-size="7.2" fill="#111" stroke="#111" stroke-width="0.22" text-anchor="end" font-weight="bold" >0</text>
<line x1="339.40" y1="710.35" x2="343.00" y2="710.35" stroke="#1a1a1a" stroke-width="1.2" />
<text x="338.20" y="712.25" font-size="7.2" fill="#111" stroke="#111" stroke-width="0.22" text-anchor="end" font-weight="bold" >10</text>
<line x1="339.40" y1="686.70" x2="343.00" y2="686.70" stroke="#1a1a1a" stroke-width="1.2" />
<text x="338.20" y="688.60" font-size="7.2" fill="#111" stroke="#111" stroke-width="0.22" text-anchor="end" font-weight="bold" >20</text>
<line x1="339.40" y1="663.05" x2="343.00" y2="663.05" stroke="#1a1a1a" stroke-width="1.2" />
<text x="338.20" y="664.95" font-size="7.2" fill="#111" stroke="#111" stroke-width="0.22" text-anchor="end" font-weight="bold" >30</text>
<line x1="339.40" y1="639.40" x2="343.00" y2="639.40" stroke="#1a1a1a" stroke-width="1.2" />
<text x="338.20" y="641.30" font-size="7.2" fill="#111" stroke="#111" stroke-width="0.22" text-anchor="end" font-weight="bold" >40</text>
<text transform="translate(310.50,685.00) rotate(-90)" font-size="7.7" font-weight="bold" fill="#111" stroke="#111" stroke-width="0.22" text-anchor="middle" textLength="103.2" lengthAdjust="spacingAndGlyphs">% TEMRA (CD45RA+CCR7-)</text>
<text transform="translate(319.80,686.20) rotate(-90)" font-size="7.7" font-weight="bold" fill="#111" stroke="#111" stroke-width="0.22" text-anchor="middle" textLength="46.5" lengthAdjust="spacingAndGlyphs">CD8+ T cells</text>
<line x1="351.40" y1="743.60" x2="506.60" y2="743.60" stroke="#111" stroke-width="1.55" />
<line x1="352.00" y1="743.00" x2="352.00" y2="746.60" stroke="#1a1a1a" stroke-width="1.2" />
<text x="352.00" y="754.20" font-size="7" fill="#111" stroke="#111" stroke-width="0.22" text-anchor="middle" font-weight="bold" >0</text>
<line x1="368.70" y1="743.00" x2="368.70" y2="746.60" stroke="#1a1a1a" stroke-width="1.2" />
<text x="368.70" y="754.20" font-size="7" fill="#111" stroke="#111" stroke-width="0.22" text-anchor="middle" font-weight="bold" >4</text>
<line x1="385.40" y1="743.00" x2="385.40" y2="746.60" stroke="#1a1a1a" stroke-width="1.2" />
<text x="385.40" y="754.20" font-size="7" fill="#111" stroke="#111" stroke-width="0.22" text-anchor="middle" font-weight="bold" >8</text>
<line x1="402.10" y1="743.00" x2="402.10" y2="746.60" stroke="#1a1a1a" stroke-width="1.2" />
<text x="402.10" y="754.20" font-size="7" fill="#111" stroke="#111" stroke-width="0.22" text-anchor="middle" font-weight="bold" >12</text>
<line x1="418.80" y1="743.00" x2="418.80" y2="746.60" stroke="#1a1a1a" stroke-width="1.2" />
<text x="418.80" y="754.20" font-size="7" fill="#111" stroke="#111" stroke-width="0.22" text-anchor="middle" font-weight="bold" >16</text>
<line x1="435.50" y1="743.00" x2="435.50" y2="746.60" stroke="#1a1a1a" stroke-width="1.2" />
<text x="435.50" y="754.20" font-size="7" fill="#111" stroke="#111" stroke-width="0.22" text-anchor="middle" font-weight="bold" >20</text>
<line x1="452.20" y1="743.00" x2="452.20" y2="746.60" stroke="#1a1a1a" stroke-width="1.2" />
<text x="452.20" y="754.20" font-size="7" fill="#111" stroke="#111" stroke-width="0.22" text-anchor="middle" font-weight="bold" >24</text>
<line x1="468.90" y1="743.00" x2="468.90" y2="746.60" stroke="#1a1a1a" stroke-width="1.2" />
<text x="468.90" y="754.20" font-size="7" fill="#111" stroke="#111" stroke-width="0.22" text-anchor="middle" font-weight="bold" >28</text>
<line x1="485.60" y1="743.00" x2="485.60" y2="746.60" stroke="#1a1a1a" stroke-width="1.2" />
<text x="485.60" y="754.20" font-size="7" fill="#111" stroke="#111" stroke-width="0.22" text-anchor="middle" font-weight="bold" >32</text>
<line x1="502.30" y1="743.00" x2="502.30" y2="746.60" stroke="#1a1a1a" stroke-width="1.2" />
<text x="502.30" y="754.20" font-size="7" fill="#111" stroke="#111" stroke-width="0.22" text-anchor="middle" font-weight="bold" >36</text>
<line x1="448.90" y1="636.00" x2="448.90" y2="743.00" stroke="#cdeecd" stroke-width="3.2" />
<line x1="448.90" y1="636.50" x2="448.90" y2="743.00" stroke="#25602c" stroke-width="1.6" stroke-dasharray="2.2 2.2"/>
<path d="M352.00,681.00 L368.70,676.80 L452.20,681.00 L501.80,681.50" fill="none" stroke="#b3262e" stroke-width="1.3"/>
<line x1="352.00" y1="669.40" x2="352.00" y2="692.70" stroke="#95302e" stroke-width="1.4" />
<line x1="349.70" y1="669.40" x2="354.30" y2="669.40" stroke="#95302e" stroke-width="1.4" />
<line x1="349.70" y1="692.70" x2="354.30" y2="692.70" stroke="#95302e" stroke-width="1.4" />
<rect x="349.75" y="678.75" width="4.5" height="4.5" rx="1.6" fill="#b3262e"/>
<line x1="368.70" y1="665.20" x2="368.70" y2="688.90" stroke="#95302e" stroke-width="1.4" />
<line x1="366.40" y1="665.20" x2="371.00" y2="665.20" stroke="#95302e" stroke-width="1.4" />
<line x1="366.40" y1="688.90" x2="371.00" y2="688.90" stroke="#95302e" stroke-width="1.4" />
<rect x="366.45" y="674.55" width="4.5" height="4.5" rx="1.6" fill="#b3262e"/>
<line x1="452.20" y1="670.00" x2="452.20" y2="693.80" stroke="#95302e" stroke-width="1.4" />
<line x1="449.90" y1="670.00" x2="454.50" y2="670.00" stroke="#95302e" stroke-width="1.4" />
<line x1="449.90" y1="693.80" x2="454.50" y2="693.80" stroke="#95302e" stroke-width="1.4" />
<rect x="449.95" y="678.75" width="4.5" height="4.5" rx="1.6" fill="#b3262e"/>
<line x1="501.80" y1="670.00" x2="501.80" y2="693.50" stroke="#95302e" stroke-width="1.4" />
<line x1="499.50" y1="670.00" x2="504.10" y2="670.00" stroke="#95302e" stroke-width="1.4" />
<line x1="499.50" y1="693.50" x2="504.10" y2="693.50" stroke="#95302e" stroke-width="1.4" />
<rect x="499.55" y="679.25" width="4.5" height="4.5" rx="1.6" fill="#b3262e"/>
<path d="M356.60,682.80 L373.10,684.90 L456.00,681.50 L506.20,680.80" fill="none" stroke="#1a1a68" stroke-width="1.3"/>
<line x1="356.60" y1="670.50" x2="356.60" y2="694.80" stroke="#1a1a68" stroke-width="1.4" />
<line x1="354.30" y1="670.50" x2="358.90" y2="670.50" stroke="#1a1a68" stroke-width="1.4" />
<line x1="354.30" y1="694.80" x2="358.90" y2="694.80" stroke="#1a1a68" stroke-width="1.4" />
<circle cx="356.60" cy="682.80" r="2.25" fill="#1a1a68"/>
<line x1="373.10" y1="673.20" x2="373.10" y2="696.90" stroke="#1a1a68" stroke-width="1.4" />
<line x1="370.80" y1="673.20" x2="375.40" y2="673.20" stroke="#1a1a68" stroke-width="1.4" />
<line x1="370.80" y1="696.90" x2="375.40" y2="696.90" stroke="#1a1a68" stroke-width="1.4" />
<circle cx="373.10" cy="684.90" r="2.25" fill="#1a1a68"/>
<line x1="456.00" y1="670.00" x2="456.00" y2="694.20" stroke="#1a1a68" stroke-width="1.4" />
<line x1="453.70" y1="670.00" x2="458.30" y2="670.00" stroke="#1a1a68" stroke-width="1.4" />
<line x1="453.70" y1="694.20" x2="458.30" y2="694.20" stroke="#1a1a68" stroke-width="1.4" />
<circle cx="456.00" cy="681.50" r="2.25" fill="#1a1a68"/>
<line x1="506.20" y1="668.40" x2="506.20" y2="693.00" stroke="#1a1a68" stroke-width="1.4" />
<line x1="503.90" y1="668.40" x2="508.50" y2="668.40" stroke="#1a1a68" stroke-width="1.4" />
<line x1="503.90" y1="693.00" x2="508.50" y2="693.00" stroke="#1a1a68" stroke-width="1.4" />
<circle cx="506.20" cy="680.80" r="2.25" fill="#1a1a68"/>
<text x="186.40" y="765.60" font-size="9.3" fill="#000" stroke="#000" stroke-width="0.22" text-anchor="middle" font-weight="bold" >Week</text>
<rect x="96.20" y="769.6" width="110.10" height="16" fill="#fbfacb"/>
<rect x="206.30" y="770.0" width="53.30" height="16" fill="#cdf4e8"/>
<text x="117.60" y="779.30" font-size="8.5" fill="#111" stroke="#111" stroke-width="0.22" text-anchor="start" font-weight="bold" textLength="68.6" lengthAdjust="spacingAndGlyphs">ART + Study Drug</text>
<text x="215.40" y="779.30" font-size="8.5" fill="#111" stroke="#111" stroke-width="0.22" text-anchor="start" font-weight="bold" textLength="33.8" lengthAdjust="spacingAndGlyphs">ART only</text>
<text x="429.00" y="765.60" font-size="9.3" fill="#000" stroke="#000" stroke-width="0.22" text-anchor="middle" font-weight="bold" >Week</text>
<rect x="338.70" y="769.6" width="110.20" height="16" fill="#fbfacb"/>
<rect x="448.90" y="770.0" width="53.20" height="16" fill="#cdf4e8"/>
<text x="360.10" y="779.30" font-size="8.5" fill="#111" stroke="#111" stroke-width="0.22" text-anchor="start" font-weight="bold" textLength="68.6" lengthAdjust="spacingAndGlyphs">ART + Study Drug</text>
<text x="457.90" y="779.30" font-size="8.5" fill="#111" stroke="#111" stroke-width="0.22" text-anchor="start" font-weight="bold" textLength="33.8" lengthAdjust="spacingAndGlyphs">ART only</text>
</svg>
</body></html>
